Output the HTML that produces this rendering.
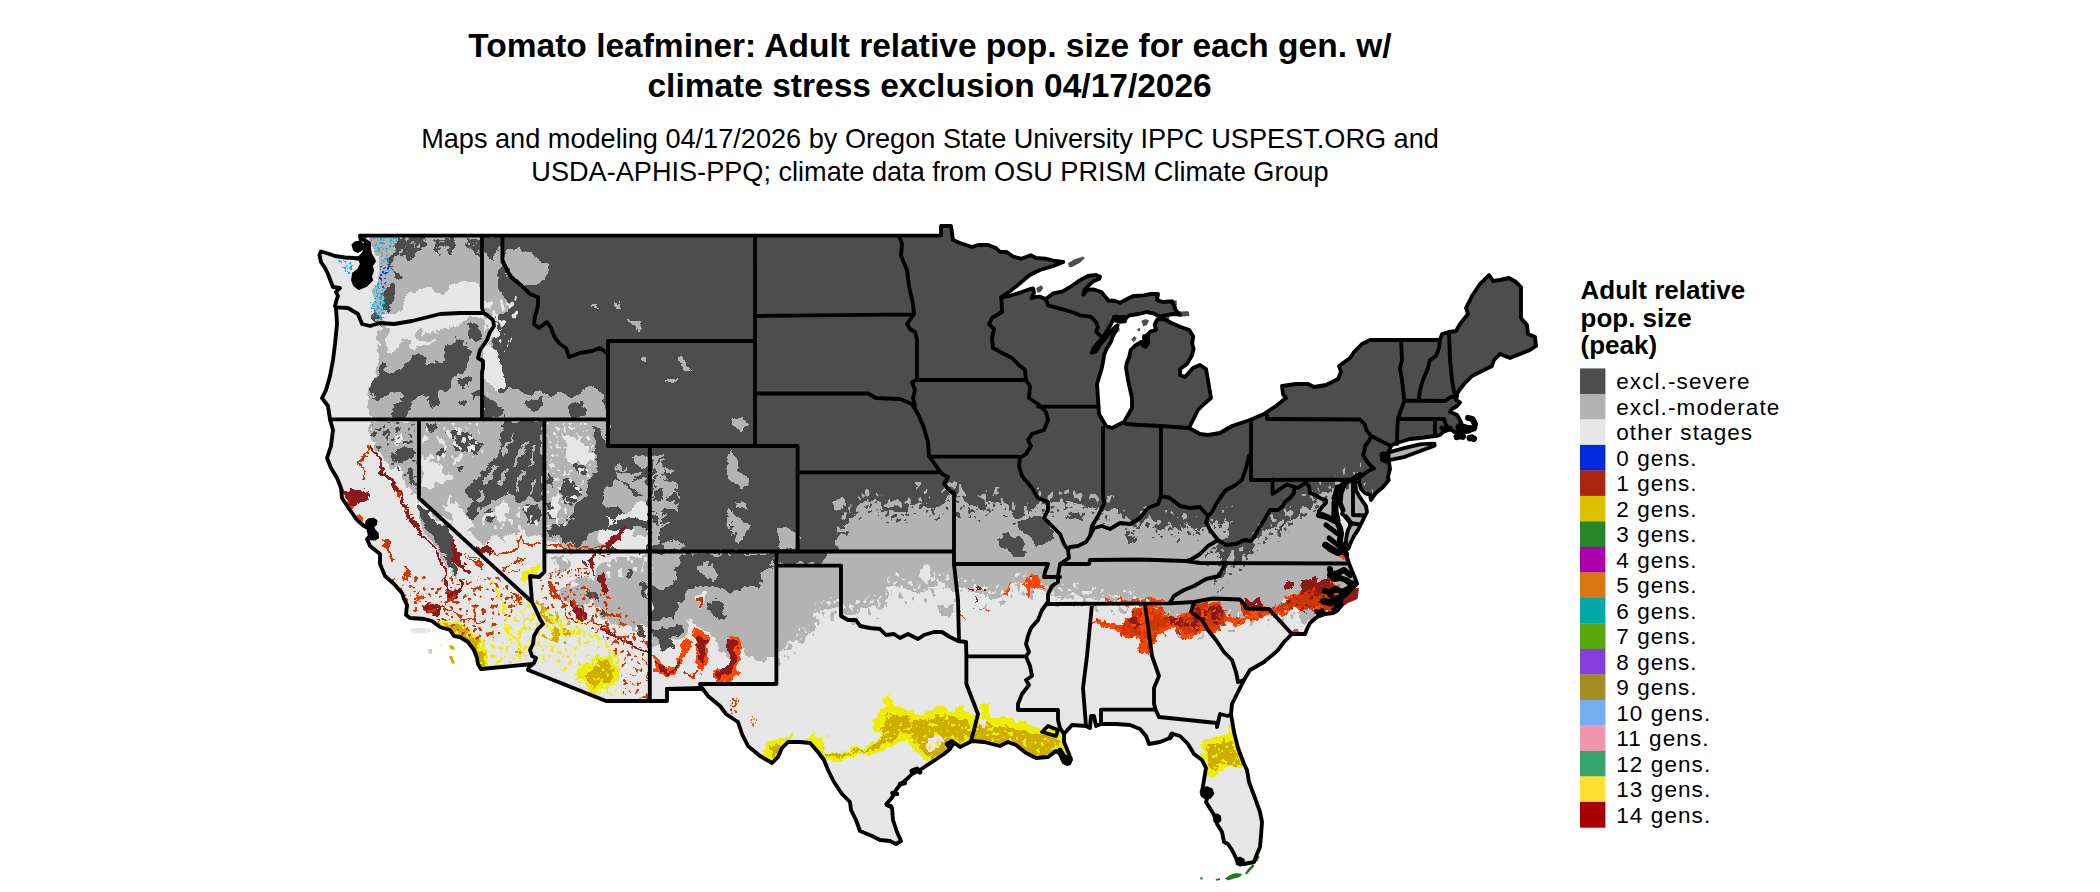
<!DOCTYPE html>
<html><head><meta charset="utf-8"><title>Tomato leafminer map</title>
<style>
html,body{margin:0;padding:0;background:#fff;}
body{width:2100px;height:892px;overflow:hidden;font-family:"Liberation Sans",sans-serif;}
svg{display:block}
.t{font-family:"Liberation Sans",sans-serif;fill:#000}
.b{fill:none;stroke:#000;stroke-width:3.85;stroke-linejoin:round;stroke-linecap:round}
</style></head><body>
<svg width="2100" height="892" viewBox="0 0 2100 892">
<rect width="2100" height="892" fill="#fff"/>
<text class="t" x="930" y="56.6" text-anchor="middle" font-size="33.5" font-weight="bold">Tomato leafminer: Adult relative pop. size for each gen. w/</text>
<text class="t" x="929.6" y="96.9" text-anchor="middle" font-size="33.5" font-weight="bold">climate stress exclusion 04/17/2026</text>
<text class="t" x="930" y="147.7" text-anchor="middle" font-size="27.13">Maps and modeling 04/17/2026 by Oregon State University IPPC USPEST.ORG and</text>
<text class="t" x="930" y="180.7" text-anchor="middle" font-size="27.13">USDA-APHIS-PPQ; climate data from OSU PRISM Climate Group</text>
<text class="t" x="1580.5" y="298.8" font-size="26" font-weight="bold">Adult relative</text>
<text class="t" x="1580.5" y="326.55" font-size="26" font-weight="bold">pop. size</text>
<text class="t" x="1580.5" y="354.3" font-size="26" font-weight="bold">(peak)</text>
<rect x="1580" y="368.4" width="25.4" height="25.8" fill="#4d4d4d"/><text class="t" x="1616.2" y="389.4" font-size="22.5" letter-spacing="1.1">excl.-severe</text>
<rect x="1580" y="393.9" width="25.4" height="25.8" fill="#b3b3b3"/><text class="t" x="1616.2" y="414.9" font-size="22.5" letter-spacing="1.1">excl.-moderate</text>
<rect x="1580" y="419.4" width="25.4" height="25.8" fill="#e6e6e6"/><text class="t" x="1616.2" y="440.4" font-size="22.5" letter-spacing="1.1">other stages</text>
<rect x="1580" y="444.9" width="25.4" height="25.8" fill="#0029db"/><text class="t" x="1616.2" y="465.9" font-size="22.5" letter-spacing="1.1">0 gens.</text>
<rect x="1580" y="470.4" width="25.4" height="25.8" fill="#a82612"/><text class="t" x="1616.2" y="491.4" font-size="22.5" letter-spacing="1.1">1 gens.</text>
<rect x="1580" y="495.9" width="25.4" height="25.8" fill="#dbc200"/><text class="t" x="1616.2" y="516.9" font-size="22.5" letter-spacing="1.1">2 gens.</text>
<rect x="1580" y="521.4" width="25.4" height="25.8" fill="#27852a"/><text class="t" x="1616.2" y="542.4" font-size="22.5" letter-spacing="1.1">3 gens.</text>
<rect x="1580" y="546.9" width="25.4" height="25.8" fill="#ac00ac"/><text class="t" x="1616.2" y="567.9" font-size="22.5" letter-spacing="1.1">4 gens.</text>
<rect x="1580" y="572.4" width="25.4" height="25.8" fill="#db7712"/><text class="t" x="1616.2" y="593.4" font-size="22.5" letter-spacing="1.1">5 gens.</text>
<rect x="1580" y="597.9" width="25.4" height="25.8" fill="#00a8a8"/><text class="t" x="1616.2" y="618.9" font-size="22.5" letter-spacing="1.1">6 gens.</text>
<rect x="1580" y="623.4" width="25.4" height="25.8" fill="#5aa80f"/><text class="t" x="1616.2" y="644.4" font-size="22.5" letter-spacing="1.1">7 gens.</text>
<rect x="1580" y="648.9" width="25.4" height="25.8" fill="#873ddb"/><text class="t" x="1616.2" y="669.9" font-size="22.5" letter-spacing="1.1">8 gens.</text>
<rect x="1580" y="674.4" width="25.4" height="25.8" fill="#a38c24"/><text class="t" x="1616.2" y="695.4" font-size="22.5" letter-spacing="1.1">9 gens.</text>
<rect x="1580" y="699.9" width="25.4" height="25.8" fill="#74adf0"/><text class="t" x="1616.2" y="720.9" font-size="22.5" letter-spacing="1.1">10 gens.</text>
<rect x="1580" y="725.4" width="25.4" height="25.8" fill="#f095ae"/><text class="t" x="1616.2" y="746.4" font-size="22.5" letter-spacing="1.1">11 gens.</text>
<rect x="1580" y="750.9" width="25.4" height="25.8" fill="#35a56b"/><text class="t" x="1616.2" y="771.9" font-size="22.5" letter-spacing="1.1">12 gens.</text>
<rect x="1580" y="776.4" width="25.4" height="25.8" fill="#ffe033"/><text class="t" x="1616.2" y="797.4" font-size="22.5" letter-spacing="1.1">13 gens.</text>
<rect x="1580" y="801.9" width="25.4" height="25.8" fill="#a80000"/><text class="t" x="1616.2" y="822.9" font-size="22.5" letter-spacing="1.1">14 gens.</text>
<defs><clipPath id="us"><path d="M360,235.6 L941,235.6 L941,226 L951,226 L953,240 L960,243 L972,247 L978,245 L988,245 L996,248 L1000,252 L1006.7,252 L1013.3,256.7 L1021.3,258.7 L1030.7,255.3 L1036,258 L1045.3,258.7 L1053.3,260.7 L1063.3,262 L1053.3,266 L1040,270 L1029.3,275.3 L1020,283.3 L1008,292.7 L1001.3,297.3 L1009.3,296 L1020,292.7 L1029.3,289.3 L1033.1,288.4 L1034,292.7 L1031.6,298.3 L1034.9,297.1 L1040,296.7 L1046,299.1 L1053.3,293.3 L1062.7,291.3 L1070.7,286.7 L1077.3,282 L1082.7,278.7 L1088,276 L1096,274.9 L1100,276.7 L1099.3,278.7 L1093.3,281.3 L1088,286 L1084.3,290 L1083.3,294.7 L1087.3,289.7 L1093.3,289.3 L1101.3,292 L1105.3,296.7 L1108.7,300.7 L1114.7,300.7 L1120,302.7 L1126.7,299.3 L1133.3,296 L1144,295.3 L1150.7,294 L1158,294 L1157.1,300 L1162.7,302 L1172,301.3 L1174,306 L1176,310.7 L1180,314.7 L1173.3,314 L1164,315.6 L1160,316.7 L1153.3,313.3 L1146.7,312 L1138.7,314 L1129.3,315.3 L1126,318 L1124.7,321.3 L1120.7,320 L1117.3,316.7 L1114.7,316.7 L1113.3,319.3 L1110.7,324.7 L1106.7,331.3 L1102.7,338 L1097.3,343.3 L1093.3,348.7 L1092,352.7 L1096,351.3 L1101.3,343.3 L1106.7,336.7 L1113.3,328.7 L1117.6,325.3 L1116.3,330 L1113.3,335.3 L1110.7,342 L1106.7,348.7 L1104,355.3 L1103.3,360.7 L1101.6,368.9 L1097,384 L1098,398 L1099,414 L1106,426 L1112,428 L1124,422 L1132,408 L1132,398 L1128,380 L1126,368 L1126.7,363.3 L1129.3,356.7 L1130.7,350 L1134.7,346 L1141.3,342 L1143.3,346 L1146,343.3 L1146.7,335.3 L1150.7,331.3 L1156,330 L1154.7,324.7 L1157.3,319.3 L1164,319.3 L1172,323.3 L1180,326.7 L1189.3,330 L1193.3,336.7 L1192,343.3 L1193.6,348.7 L1192,355.3 L1187,364 L1180,369 L1180,375 L1185,377 L1193,368 L1200,365 L1206,369 L1209,386 L1211,398 L1204,404 L1198,410 L1194,418 L1189,428 L1200,434 L1208,435 L1220,433 L1232,426 L1250,420 L1264,414 L1276,406 L1286,398 L1283,394 L1282,386 L1296,384 L1308,384 L1314,387 L1326,385 L1338,379 L1341,372 L1339,366 L1350,358 L1354,352 L1362,344 L1370,340 L1440,340 L1442,334 L1449,332 L1456,331 L1460,324 L1468,314 L1466,308 L1472,296 L1480,284 L1489,275 L1493,281 L1500,280 L1509,278 L1516,282 L1521,287 L1521,318 L1527,325 L1528,334 L1535,337 L1536,346 L1530,350 L1520,354 L1510,358 L1500,354 L1494,360 L1492,366 L1480,372 L1472,376 L1464,384 L1458,392 L1456,397 L1457,396 L1456,400 L1460,402.5 L1457,406 L1452,409 L1450,412 L1454,413.5 L1457,415 L1460,420 L1462,425 L1468,427 L1474,428 L1475.2,424 L1472.5,419 L1468,417.5 L1472.5,419 L1475.2,424 L1474,429 L1469,431.5 L1464,432.2 L1459,430.5 L1455,432.5 L1452,430 L1449,429.5 L1443,432 L1440,435 L1435,436 L1420,438 L1410,439 L1400,442 L1394,444 L1391,446 L1389,451 L1384,456 L1382,459 L1389,462 L1390,469 L1388,477 L1388.8,480 L1383,487 L1376,493 L1371,500 L1370,495 L1365,493 L1361,489 L1359,482 L1360,474 L1356,476 L1355,480 L1356,490 L1359,496 L1363,502 L1366,506 L1367,512 L1365,516 L1361,524 L1358,530 L1354,536 L1351,542 L1348,549 L1346,548 L1346,540 L1347,534 L1348,530 L1351,524 L1350,522 L1346,517 L1342,514 L1343,510 L1339,503 L1340,492 L1344,485 L1350,480 L1343,483 L1337,490 L1335,500 L1335,510 L1333,514 L1337,522 L1340,528 L1341,534 L1340,540 L1341,546 L1343,551 L1346,554 L1346,551 L1347,557 L1349,563.5 L1352,571 L1355,578 L1357,583.5 L1352,589 L1348,593 L1342,598 L1340,605 L1338,610 L1333,613 L1325,614 L1317,617 L1310,623 L1307,629 L1305,634 L1292,634 L1284,642 L1278,650 L1276,652 L1264,662 L1250,670 L1244,680 L1238,692 L1232,704 L1231,714 L1234,732 L1238,748 L1244,764 L1247,770 L1249,782 L1255,798 L1260,812 L1262,822 L1261,836 L1260,847 L1257,854 L1254,862 L1244,864 L1238,863 L1236,858 L1232,850 L1228,844 L1224,842 L1222,832 L1217,824 L1216,818 L1211,810 L1206,802 L1208,796 L1202,792 L1204,780 L1206,768 L1202,760 L1194,754 L1188,744 L1180,736 L1173,734 L1170,738 L1160,742 L1149,744 L1146,736 L1140,729 L1130,725 L1116,724 L1105,724 L1101,724 L1096,726 L1094,716 L1091,716 L1090,728 L1086,726 L1072,725 L1064,734 L1064,742 L1069,754 L1071,760 L1067,764 L1063,761 L1060,754 L1056,751 L1048,757 L1036,758 L1026,753 L1016,745 L1008,742 L1000,746 L984,742 L972,741 L968,743 L960,747 L952,741 L947,744 L950,749 L944,754 L932,762 L920,770 L912,774 L908,778 L900,785 L896,790 L893,796 L890,800 L886.4,804 L892,808 L893,820 L897,832 L901,841 L896,844 L890,841 L880,840 L872,836 L860,831 L856,820 L851,810 L850,802 L842,794 L834,782 L828,770 L824,760 L818,752 L810,743 L800,742 L788,742 L782,748 L778,757 L772,763 L760,756 L748,746 L742,734 L738,722 L726,714 L720,706 L708,696 L702,688 L667,689 L667,701 L606,701 L528,670 L529,667 L533,664 L481,669 L478,664 L477,658 L474,650 L468,642 L460,637 L454,636 L450,630 L440,627 L432,621 L424,619 L410,618 L406,615 L407,605 L404,599 L402,593 L394,584 L385,576 L380,564 L380,554 L370,546 L367,539 L370,536 L368,528 L364,526 L357,520 L350,510 L342,498 L341,488 L337,478 L331,468 L327,458 L331,446 L333,430 L330,419.4 L328,406 L322,398 L326,390 L330,376 L333,360 L335,344 L337,324 L336,308 L335,306 L336.5,300 L338,296 L336,292 L340,288 L333,287 L331,282 L328,274 L325,268 L321,262 L319.5,255 L321,251.5 L328,253.5 L335,256 L345,257.5 L354,258 L360,259 L362,264 L359,270 L354,274 L353,280 L355,285 L359,288 L366,285 L371,280 L370,276 L372,271 L371,265 L374,261 L370,254 L369,248 L369,243 L366,241 L360.5,239Z"/><path d="M1383,458 L1388,452.6 L1404,448.1 L1421,444.1 L1434.5,443.6 L1434.5,445.8 L1421,450.7 L1405,456.8 L1389,460.2 L1382,460Z"/></clipPath></defs>
<defs><filter id="rough" x="280" y="200" width="1300" height="692" filterUnits="userSpaceOnUse" color-interpolation-filters="sRGB">
<feTurbulence type="fractalNoise" baseFrequency="0.09" numOctaves="3" seed="7" result="n"/>
<feDisplacementMap in="SourceGraphic" in2="n" scale="13" xChannelSelector="R" yChannelSelector="G"/>
</filter></defs>
<g clip-path="url(#us)"><rect x="280" y="200" width="1300" height="692" fill="#4d4d4d"/><g filter="url(#rough)" shape-rendering="crispEdges">
<rect x="280" y="200" width="1300" height="692" fill="#4d4d4d"/>
<path d="M836,552 L838,534 L848,522 L856,510 L868,502 L874,498 L880,506 L884,510 L894,513 L906,514 L910,506 L912,502 L920,501 L928,504 L936,510 L944,502 L949,496 L952,494 L960,498 L968,506 L980,510 L988,502 L1000,501 L1010,510 L1020,518 L1028,510 L1032,506 L1040,500 L1050,506 L1064,501 L1080,506 L1090,506 L1098,509 L1100,515.3 L1105.3,511.3 L1112,508.7 L1120,510 L1122.7,519.3 L1126.7,523.3 L1132,530 L1137.3,527.3 L1144,520.7 L1148,519.3 L1150.7,524.7 L1158.7,528.7 L1162.7,524.7 L1170.7,523.3 L1174.7,530 L1180,532.7 L1185.3,524.7 L1190.7,523.3 L1193.3,528.7 L1198.7,531.3 L1205.3,526 L1209.3,523.3 L1212,522 L1214.7,526 L1220,524.7 L1226.7,520.7 L1233.3,519.3 L1230.7,526 L1226.7,530 L1225.3,535.3 L1224,539.3 L1220,542 L1214.7,546 L1206.7,551.3 L1204,555.3 L1210.7,552.7 L1217.3,552.7 L1220,556.7 L1222.7,562 L1224,564.7 L1225.3,570 L1222.7,575.3 L1217.3,578 L1213.3,583.3 L1212,586 L1216,582 L1225.3,575.3 L1228,570 L1230.7,564.7 L1241.3,562 L1242.7,556.7 L1250.7,550 L1253.3,546 L1258.7,538 L1265.3,531.3 L1273.3,527.3 L1278.7,530 L1282.7,523.3 L1292,519.3 L1297.3,512.7 L1304,507.3 L1309.3,511.3 L1313.3,500.7 L1320,495.3 L1326.7,492.7 L1332,490 L1333,487 L1340,484 L1346,481 L1353,479.5 L1358,474 L1361,476 L1360.5,485 L1363,491 L1368,495 L1373,499 L1390,500 L1500,900 L650,900 L650,551.5 L776.4,551.5 L776.4,565.6 L798,564.4 L820,563 L832,552Z" fill="#b3b3b3"/>
<path d="M650,648 L666,642 L684,638 L694,624 L708,632 L720,648 L728,664 L740,650 L748,656 L764,660 L776,656 L790,648 L800,640 L812,632 L816,614 L830,610 L840,606 L843,615 L850,614 L858,612 L868,606 L884,608 L888,588 L896,584 L906,592 L920,594 L930,588 L940,580 L950,586 L954,590 L959,590 L970,588 L986,598 L1000,596 L1008,588 L1020,582 L1032,588 L1048,596 L1050,598 L1064,596 L1080,594 L1090,598 L1106,602 L1120,603 L1132,600 L1140,598 L1140,606 L1152,612 L1164,622 L1180,626 L1190,632 L1200,628 L1208,622 L1224,620 L1236,620 L1252,616 L1268,614 L1280,610 L1290,606 L1300,610 L1306,614 L1316,612 L1320,616 L1340,616 L1500,900 L650,900Z" fill="#e6e6e6"/>
<path d="M998,538 L1006,534 L1016,538 L1025,544 L1026,556 L1018,558 L1008,550 L1000,548Z" fill="#4d4d4d"/>
<path d="M1018,522 L1028,518 L1040,516 L1052,522 L1053,538 L1044,544 L1032,542 L1024,534Z" fill="#4d4d4d"/>
<path d="M955,510 L960,512 L959,520 L955,518Z" fill="#4d4d4d"/>
<path d="M1068,514 L1078,512 L1080,518 L1070,520Z" fill="#4d4d4d"/>
<path d="M834,502 L842,496 L846,500 L840,510 L835,510Z" fill="#b3b3b3"/>
<path d="M916,482 L920,481.6 L920,486 L916.4,486.4Z" fill="#b3b3b3"/>
<path d="M918,568 L926,567 L929,574 L920,576Z" fill="#e6e6e6"/>
<path d="M918,568 L928,567 L930,578 L922,581 L918,576Z" fill="#e6e6e6"/>
<path d="M940,606 L952,607 L951,618 L942,616Z" fill="#b3b3b3"/>
<path d="M938,604 L954,605 L953,616 L940,615Z" fill="#b3b3b3"/>
<path d="M1128,534 L1137.3,535.3 L1136,543.3 L1130.7,542Z" fill="#4d4d4d"/>
<path d="M369,230 L503,230 L520,248 L540,258 L549,263 L546,280 L532,286 L522,286 L518,300 L524,310 L520,324 L500,332 L492,332 L496.7,353.3 L502,362.7 L507.3,374.7 L503.3,385.3 L496.7,392 L510,386.7 L515.3,392 L536.7,393.3 L542,396 L550,393.3 L563.3,396 L576.7,393.3 L590,385.3 L596,388 L600,396 L608,405 L608,419.4 L370,419.4 L368.7,410.7 L370,401.3 L368.7,390.7 L372.7,380 L376.7,369.3 L379.3,356 L378,344 L376.7,334.7 L379.3,325.3 L375,308 L374,300 L375,290 L379,280 L380,270 L378,258 L372,248 L369,236.5Z" fill="#b3b3b3"/>
<path d="M300,225 L369,236.5 L372,248 L378,258 L380,270 L379,280 L375,290 L374,300 L375,308 L372,317 L379.3,325.3 L376.7,334.7 L378,344 L379.3,356 L376.7,369.3 L372.7,380 L368.7,390.7 L370,401.3 L368.7,410.7 L370,418.9 L300,419.4Z" fill="#e6e6e6"/>
<path d="M400,304 L406,296 L414,294 L420,289 L435,289 L443,296 L454,284 L466,281 L482,281 L483.3,317.1 L471.3,317.3 L464.7,320 L456.7,322.7 L448.7,328 L438,330.7 L430,333.3 L416.7,332 L412.7,334.7 L416.7,340 L430,338.7 L435.3,341.3 L430,342.7 L422,345.3 L416.7,350.7 L411.3,348 L408.7,340 L403.3,337.3 L402,344 L395.3,345.3 L392.7,353.3 L384.7,350.7 L384.7,340 L390,332 L384.7,327.3 L380,316 L386,313 L400,313Z" fill="#e6e6e6"/>
<path d="M483.3,317.1 L487.3,317.3 L496.7,314.7 L507.3,320 L506,329.3 L496.7,334.7 L488.7,332 L484.7,326.7Z" fill="#e6e6e6"/>
<path d="M483.3,350.7 L488.7,344 L496.7,353.3 L502,362.7 L507.3,374.7 L503.3,385.3 L496.7,390.7 L487.3,385.3 L483.3,380Z" fill="#e6e6e6"/>
<path d="M398,236.5 L425,236.5 L424,248 L418,254 L414,258 L409,261 L406,258 L400,254 L396,256 L392,262 L390,270 L394,275 L400,273 L404,277 L400,282 L394,281 L390,276 L389,266 L391,254 L395,246Z" fill="#4d4d4d"/>
<path d="M434,236.5 L455,236.5 L456,244 L450,254 L445,250 L440,254 L435,248Z" fill="#4d4d4d"/>
<path d="M464,236.5 L481,236.5 L481,254 L474,256 L470,248 L465,244Z" fill="#4d4d4d"/>
<path d="M380,290 L386,288 L390,284 L396,288 L398,296 L394,304 L390,311 L386,310 L385,302 L381,298Z" fill="#4d4d4d"/>
<path d="M484,236 L502,236 L502,246 L496,250 L492,260 L486,256 L484,246Z" fill="#4d4d4d"/>
<path d="M502.4,260 L508,272 L512,278 L522,286 L518,300 L524,310 L520,324 L500,332 L496,320 L506,314 L508,300 L500,292 L496,284 L500,272Z" fill="#4d4d4d"/>
<path d="M502.4,235.6 L560,235.6 L560,260 L549,263 L540,258 L520,248 L510,250 L506,258 L502.4,260Z" fill="#4d4d4d"/>
<path d="M372.7,380 L379.3,374.7 L384.7,364 L392.7,374.7 L400.7,368 L408.7,358.7 L416.7,356 L420.7,353.3 L426,362.7 L434,361.3 L443.3,358.7 L446,345.3 L454,342.7 L458,337.3 L464.7,340 L467.3,348 L470,353.3 L470,361.3 L464.7,369.3 L456.7,372 L451.3,380 L448.7,390.7 L443.3,393.3 L438,396 L440.7,406.7 L435.3,410.7 L430,406.7 L427.3,398.7 L422,393.3 L416.7,401.3 L411.3,404 L408.7,412 L403.3,418.9 L390,418.9 L395.3,406.7 L400.7,401.3 L398,393.3 L390,390.7 L384.7,393.3 L379.3,401.3 L372.7,398.7 L371.3,388Z" fill="#4d4d4d"/>
<path d="M466,326.7 L471.3,324 L478,326.7 L483.3,332 L482,338.7 L475.3,340 L470,334.7Z" fill="#4d4d4d"/>
<path d="M458,377.3 L468.7,377.3 L469.3,386.7 L460.7,388Z" fill="#4d4d4d"/>
<path d="M474,390.7 L482,390.7 L482,398.7 L474.7,398Z" fill="#4d4d4d"/>
<path d="M462,398.7 L468.7,401.3 L464.7,406.7 L459.3,405.3Z" fill="#4d4d4d"/>
<path d="M483.3,397.3 L491.3,398.7 L496.7,406.7 L506,410.7 L504.7,418.9 L483.3,418.9Z" fill="#4d4d4d"/>
<path d="M528.7,401.3 L539.3,398.7 L544.7,404 L542,412 L534,413.3 L528.7,409.3Z" fill="#4d4d4d"/>
<path d="M568.7,406.7 L579.3,401.3 L587.3,406.7 L584.7,416 L574,417.3Z" fill="#4d4d4d"/>
<path d="M300,419.4 L420,419.4 L420,498 L442,520 L450,520 L458,525.3 L470,530.7 L476.7,541.3 L487.3,542.7 L495.3,534.7 L503.3,540 L514,533.3 L522,528 L530,536 L544.7,537.3 L544.7,551.3 L650,551.5 L650,710 L300,710Z" fill="#e6e6e6"/>
<path d="M419,419.4 L608,419.4 L608,446 L596,422 L597.3,436.7 L593.3,450 L598.7,466 L593.3,474 L588,484.7 L584,495.3 L574.7,506 L569.3,516.7 L564,528.9 L557.3,522.7 L548,534.7 L545.3,551.3 L544.7,551.3 L544.7,537.3 L530,536 L522,528 L514,533.3 L503.3,540 L495.3,534.7 L487.3,542.7 L476.7,541.3 L470,530.7 L458,525.3 L450,520 L442,520 L419,498Z" fill="#b3b3b3"/>
<path d="M370,421.3 L418.7,421.3 L418.7,502 L420.7,506 L443.3,524.7 L451.3,528.9 L450,520 L447.3,528 L450,538.7 L454,550.7 L456.7,562.7 L460,573.3 L456.7,580 L450,573.3 L444.7,562.7 L439.3,552 L432.7,542.7 L426,534.7 L420.7,525.3 L416.7,495.3 L411.3,490 L403.3,476.7 L400.7,466 L392.7,468.7 L384.7,460.7 L379.3,450 L372.7,442 L370,431.3Z" fill="#b3b3b3"/>
<path d="M418.7,502 L420.7,506 L443.3,524.7 L448.7,528.9 L440.7,520 L447.3,528 L450,538.7 L454,550.7 L456.7,562.7 L459.3,573.3 L455.3,577.3 L450,570.7 L447.3,560 L443.3,552 L436.7,541.3 L430,534.7 L426,526.7 L422,520 L424.7,520.7 L418,511.3Z" fill="#4d4d4d"/>
<path d="M392.7,452.7 L403.3,447.3 L414,448.7 L415.3,455.3 L400.7,462Z" fill="#4d4d4d"/>
<path d="M406,468.7 L411.3,470 L416.7,484.7 L411.3,484.7Z" fill="#4d4d4d"/>
<path d="M370.7,432.7 L375.3,432 L376,436 L371.3,436.7Z" fill="#4d4d4d"/>
<path d="M384.7,428.7 L389.3,428.7 L389.3,432.7 L384.7,432.7Z" fill="#4d4d4d"/>
<path d="M392.7,434 L403.3,435.3 L402,444.7 L394,443.3Z" fill="#e6e6e6"/>
<path d="M355.3,430 L366,427.3 L368.7,436.7 L363.3,444.7 L355.3,443.3Z" fill="#e6e6e6"/>
<path d="M500.7,421.3 L543.3,421.3 L543.3,503.3 L530,496.7 L523.3,503.3 L515.3,502 L510,490 L502,495.3 L494,503.3 L483.3,506 L475.3,508.7 L470,500.7 L464.7,490 L470,482 L480.7,476.7 L488.7,466 L496.7,458 L502,450 L499.3,439.3 L502,431.3Z" fill="#4d4d4d"/>
<path d="M424.7,423.3 L438,423.3 L440.7,431.3 L430,432.7Z" fill="#4d4d4d"/>
<path d="M446,431.3 L456.7,427.3 L476.7,439.3 L483.3,447.3 L478,455.3 L467.3,450 L456.7,448.7 L450,440.7Z" fill="#4d4d4d"/>
<path d="M436.7,448.7 L443.3,448 L443.3,454 L437.3,454.7Z" fill="#4d4d4d"/>
<path d="M456,468.7 L463.3,468.7 L459.3,475.3Z" fill="#4d4d4d"/>
<path d="M467.3,508.7 L475.3,503.3 L478,514 L470,520.7Z" fill="#4d4d4d"/>
<path d="M523.3,508.7 L534,503.3 L539.3,511.3 L536.7,524.7 L528.7,524.7Z" fill="#4d4d4d"/>
<path d="M483.3,511.3 L491.3,508.7 L494,519.3 L486,523.3Z" fill="#4d4d4d"/>
<path d="M510,436.7 L514,435.3 L506,454 L502,455.3Z" fill="#b3b3b3"/>
<path d="M523.3,443.3 L526.7,443.3 L518,466 L514.7,466Z" fill="#b3b3b3"/>
<path d="M534,444.7 L536.7,444.7 L531.3,466 L528.7,466Z" fill="#b3b3b3"/>
<path d="M494,466 L498,467.3 L487.3,484.7 L483.3,483.3Z" fill="#b3b3b3"/>
<path d="M507.3,466 L510,467.3 L502,484.7 L498.7,484Z" fill="#b3b3b3"/>
<path d="M520.7,472.7 L523.3,474 L518,490 L515.3,488.7Z" fill="#b3b3b3"/>
<path d="M534,476.7 L536.7,477.3 L532.7,495.3 L530,494.7Z" fill="#b3b3b3"/>
<path d="M482,487.3 L486,488.7 L479.3,503.3 L476,502Z" fill="#b3b3b3"/>
<path d="M422,460.7 L443.3,466 L446,479.3 L430,490 L422,484.7Z" fill="#e6e6e6"/>
<path d="M443.3,503.3 L454,502 L463.3,511.3 L472.7,524.7 L467.3,528.9 L456.7,528.9 L448.7,516.7Z" fill="#e6e6e6"/>
<path d="M494,511.3 L502,503.3 L510,506 L507.3,516.7 L499.3,524.7Z" fill="#e6e6e6"/>
<path d="M565.3,435.3 L573.3,434 L584,442 L592,452.7 L593.3,463.3 L585.3,463.3 L577.3,460.7 L569.3,466 L565.3,456.7 L568,447.3Z" fill="#e6e6e6"/>
<path d="M573.3,463.3 L582.7,463.3 L585.3,472.7 L577.3,475.3Z" fill="#4d4d4d"/>
<path d="M561.3,479.3 L574.7,479.3 L580,492.7 L574.7,503.3 L564,500.7 L558.7,490Z" fill="#4d4d4d"/>
<path d="M546.7,472.7 L553.3,476.7 L550.7,490 L546.7,487.3Z" fill="#4d4d4d"/>
<path d="M548,503.3 L556,502 L557.3,516.7 L549.3,519.3Z" fill="#4d4d4d"/>
<path d="M552,495.3 L557.3,490 L560,503.3 L556,516.7 L552,514Z" fill="#e6e6e6"/>
<path d="M632,456.7 L648.7,455.3 L648.7,466 L641.3,468.7 L636,463.3Z" fill="#b3b3b3"/>
<path d="M614.7,470 L625.3,472.7 L633.3,479.3 L646.7,476.7 L648.7,484.7 L641.3,495.3 L633.3,490 L628,484.7 L620,482Z" fill="#b3b3b3"/>
<path d="M601.3,503.3 L609.3,484.7 L614.7,479.3 L622.7,484.7 L630.7,492.7 L638.7,495.3 L648.7,487.3 L648.7,528.9 L593.3,528.9 L598.7,516.7 L596,533.3 L598.7,541.3 L606.7,546.7 L620,550 L648.7,550 L648.7,520Z" fill="#b3b3b3"/>
<path d="M604,516.7 L614.7,519.3 L625.3,514 L638.7,503.3 L648.7,502 L648.7,528.9 L604,528.9 L596,533.3 L598.7,541.3 L606.7,546.7 L620,550 L648.7,550 L648.7,520 L614.7,520 L609.3,528Z" fill="#e6e6e6"/>
<path d="M632,525.3 L646.7,525.3 L646.7,537.3 L633.3,537.3Z" fill="#b3b3b3"/>
<path d="M545.3,520 L601.3,520 L598.7,528 L596,533.3 L598.7,541.3 L606.7,546.7 L606.7,551.3 L545.3,551.3Z" fill="#b3b3b3"/>
<path d="M546.7,528 L560,524 L574.7,520 L601.3,520 L598.7,528 L589.3,534.7 L585.3,542.7 L580,546.7 L566.7,544 L556,536 L548,534.7Z" fill="#4d4d4d"/>
<path d="M545.3,538.7 L556,541.3 L566.7,546.7 L566.7,551.3 L545.3,551.3Z" fill="#e6e6e6"/>
<path d="M652,455.3 L658.7,456.7 L657.3,463.3 L662.7,468.7 L660,479.3 L668,484.7 L678.7,487.3 L670.7,492.7 L665.3,500.7 L681.3,502 L678.7,508.7 L670.7,511.3 L662.7,506 L660,516.7 L662.7,524.7 L652,528.9Z" fill="#b3b3b3"/>
<path d="M653.3,467.3 L658.7,470 L657.3,479.3 L653.3,479.3Z" fill="#4d4d4d"/>
<path d="M653.3,484.7 L665.3,490 L660,500.7 L653.3,500.7Z" fill="#4d4d4d"/>
<path d="M653.3,511.3 L658.7,514 L657.3,523.3 L653.3,524.7Z" fill="#4d4d4d"/>
<path d="M725.3,451.3 L733.3,450 L736,463.3 L740,471.3 L748,476.7 L748,483.3 L740,490 L733.3,484.7 L728,476.7 L726.7,463.3Z" fill="#b3b3b3"/>
<path d="M737.3,502 L749.3,503.3 L748,508.7 L738.7,507.3Z" fill="#b3b3b3"/>
<path d="M724,512.7 L733.3,511.3 L740,516.7 L745.3,524.7 L753.3,528.9 L737.3,528.9 L732,520.7 L732,528 L742.7,522.7 L753.3,528 L748,533.3 L740,544 L734.7,537.3Z" fill="#b3b3b3"/>
<path d="M777.3,533.3 L784,528 L793.3,533.3 L796,546.7 L786.7,544Z" fill="#b3b3b3"/>
<path d="M652,520 L657.3,525.3 L660,536 L654.7,546.7 L652,550Z" fill="#b3b3b3"/>
<path d="M660,545.3 L673.3,540 L686.7,548 L673.3,550.4Z" fill="#b3b3b3"/>
<path d="M730,418 L737.3,415.3 L744,418 L746.7,426 L740,430 L733.3,424.7Z" fill="#b3b3b3"/>
<path d="M778,528 L788,526 L797,538 L797,550 L780,550 L777,538Z" fill="#b3b3b3"/>
<path d="M557.3,594.7 L566.7,582.7 L578.7,577.3 L593.3,578.7 L596,565.3 L609.3,561.3 L622.7,558.7 L648.7,554.7 L648.7,626.7 L638.7,626.7 L633.3,632 L625.3,625.3 L614.7,624 L602.7,618.7 L598.7,605.3 L586.7,600 L580,605.3 L566.7,605.3Z" fill="#b3b3b3"/>
<path d="M553.3,558.7 L561.3,557.3 L572,564 L566.7,573.3 L556,572Z" fill="#b3b3b3"/>
<path d="M586.7,592 L596,590.7 L598.7,598.7 L590.7,600Z" fill="#4d4d4d"/>
<path d="M638.7,584 L646.7,582.7 L648.7,594.7 L644,597.3 L640,592Z" fill="#4d4d4d"/>
<path d="M582.7,560 L586.7,558.7 L586.7,568 L583.3,566.7Z" fill="#4d4d4d"/>
<path d="M601.3,610.7 L606.7,612 L605.3,616Z" fill="#4d4d4d"/>
<path d="M636,626.7 L642.7,628 L645.3,637.3 L638.7,636Z" fill="#4d4d4d"/>
<path d="M624,568 L630.7,568 L629.3,576 L624,574.7Z" fill="#4d4d4d"/>
<path d="M681.3,554 L774.7,554 L774.7,560 L769.3,568 L761.3,576 L758.7,586.7 L748,584 L740,589.3 L729.3,594.7 L724,589.3 L713.3,584 L700,585.3 L689.3,589.3 L684,597.3 L678.7,605.3 L673.3,618.7 L650.7,620 L650.7,584 L660,588 L670.7,586.7 L676,578.7 L678.7,565.3Z" fill="#4d4d4d"/>
<path d="M710.7,600 L718.7,598.7 L724,610.7 L726.7,613.3 L718.7,621.3 L710.7,616 L708,608Z" fill="#4d4d4d"/>
<path d="M650.7,626.7 L668,629.3 L678.7,626.7 L681.3,633.3 L670.7,638.9 L676,650 L660,648 L652,640Z" fill="#4d4d4d"/>
<path d="M697.3,566.7 L713.3,565.3 L718.7,573.3 L710.7,578.7 L700,573.3Z" fill="#b3b3b3"/>
<path d="M697.3,596 L705.3,592 L709.3,594.7 L704,602.7 L700,610.7 L697.3,605.3Z" fill="#e6e6e6"/>
<path d="M686.7,624 L692,616 L694.7,621.3 L692,630.7 L697.3,629.3 L705.3,632 L706.7,638.9 L686.7,638.9Z" fill="#e6e6e6"/>
<path d="M612,304 L622,303 L620,308 L614,309Z" fill="#b3b3b3"/>
<path d="M628,320 L638,321 L642,332 L636,331Z" fill="#b3b3b3"/>
<path d="M593,306 L600,304 L599,309Z" fill="#b3b3b3"/>
<path d="M640,358 L646,356 L648,360 L643,361Z" fill="#b3b3b3"/>
<path d="M678,358 L684,358 L688,370 L684,372Z" fill="#b3b3b3"/>
<path d="M666,380 L678,378 L674,383 L666,383Z" fill="#b3b3b3"/>
<path d="M580,388 L590,386 L590,392 L582,392Z" fill="#b3b3b3"/>
<path d="M730,418 L742,416 L746,426 L738,430 L731,424Z" fill="#b3b3b3"/>
<path d="M1092,624 L1097.3,617.3 L1102.7,618.7 L1110.7,624 L1124,622.7 L1130.7,616 L1132,609.3 L1140,605.3 L1145.3,606.7 L1153.3,605.3 L1164,610.7 L1166.7,618.7 L1174.7,616 L1184,613.3 L1192,613.3 L1192,608 L1201.3,602.7 L1221.3,601.3 L1221.3,632 L1206.7,632 L1198.7,632 L1190.7,630.7 L1189.3,638.7 L1184,637.3 L1182.7,632 L1166.7,626.7 L1164,634.7 L1156,637.3 L1153.3,646.7 L1148,653.3 L1138.7,653.3 L1136,646.7 L1142.7,640 L1140,634.7 L1126.7,640 L1124,634.7 L1113.3,632 L1100,626.7Z" fill="#ff4500"/>
<path d="M1105.3,600 L1132,598.7 L1153.3,598.7 L1166.7,601.3 L1153.3,604.7 L1126.7,604.7 L1105.3,604.7Z" fill="#ff4500"/>
<path d="M1113.3,626.7 L1126.7,624 L1132,616 L1134.7,609.3 L1142.7,606.7 L1148,610.7 L1158.7,609.3 L1165.3,616 L1169.3,620 L1180,616 L1192,614.7 L1193.3,609.3 L1202.7,604 L1221.3,602.7 L1221.3,629.3 L1208,629.3 L1201.3,626.7 L1190.7,626.7 L1180,626.7 L1169.3,624 L1161.3,629.3 L1153.3,634.7 L1150.7,645.3 L1144,650.7 L1138.7,649.3 L1144,640 L1142.7,632 L1132,634.7 L1126.7,634.7Z" fill="#cd3700"/>
<path d="M1132,610.7 L1142.7,610.7 L1142.7,624 L1134.7,626.7 L1129.3,622.7Z" fill="#8b1a1a"/>
<path d="M1164,616 L1174.7,618.7 L1185.3,616 L1193.3,614.7 L1201.3,618.7 L1204,626.7 L1193.3,625.3 L1180,624 L1169.3,622.7Z" fill="#8b1a1a"/>
<path d="M1194.7,609.3 L1204,605.3 L1221.3,604 L1221.3,622.7 L1212,618.7 L1205.3,613.3 L1198.7,613.3Z" fill="#8b1a1a"/>
<path d="M1138.7,645.3 L1145.3,642.7 L1148,648 L1141.3,652Z" fill="#8b1a1a"/>
<path d="M1022.7,584 L1032.7,570.7 L1041.3,578.7 L1048,585.3 L1041.3,590.7 L1033.3,589.3 L1032,597.3 L1028,596 L1028,588Z" fill="#ff4500"/>
<path d="M1004,592.7 L1010.7,584.7 L1008.7,594.7Z" fill="#ff4500"/>
<path d="M970.7,586.7 L984,588.3 L982.7,590 L971.3,588.7Z" fill="#8b1a1a"/>
<path d="M973.3,598.7 L978.7,598.4 L978.9,600.3 L973.6,600.5Z" fill="#8b1a1a"/>
<path d="M1028,577.3 L1032,576.7 L1032,580 L1028.7,580.7Z" fill="#8b1a1a"/>
<path d="M940,605.3 L953.3,606.7 L953.3,618.7 L942.7,616Z" fill="#b3b3b3"/>
<path d="M1138,610 L1148,606 L1160,606 L1168,616 L1180,614 L1192,610 L1200,604 L1220,604 L1226,610 L1228,620 L1236,616 L1244,618 L1256,614 L1264,610 L1280,604 L1284,596 L1296,596 L1306,588 L1320,588 L1332,582 L1340,588 L1340,606 L1332,614 L1320,610 L1304,612 L1292,608 L1284,616 L1278,614 L1268,616 L1256,620 L1240,624 L1228,624 L1220,626 L1206,628 L1200,634 L1188,636 L1182,632 L1172,628 L1164,632 L1160,636 L1152,636 L1148,636 L1144,630 L1138,628 L1146,624 L1138,620Z" fill="#ff4500"/>
<path d="M1152,610 L1168,618 L1180,616 L1192,613 L1202,606 L1220,606 L1225,612 L1224,622 L1216,625 L1204,626 L1198,632 L1188,633 L1180,629 L1168,626 L1160,630 L1152,630 L1148,622Z" fill="#cd3700"/>
<path d="M1240,606 L1252,604 L1264,606 L1280,606 L1286,598 L1298,598 L1308,590 L1320,590 L1332,584 L1340,590 L1340,604 L1330,611 L1320,608 L1306,609 L1294,606 L1284,613 L1276,612 L1264,614 L1252,616 L1242,614Z" fill="#cd3700"/>
<path d="M1164,617 L1180,615 L1192,617 L1200,623 L1196,630 L1180,626.4 L1168,625Z" fill="#8b1a1a"/>
<path d="M1196,607 L1220,605 L1225.6,612.4 L1220,621.6 L1204,620.4 L1194,614.4Z" fill="#8b1a1a"/>
<path d="M1244,598 L1260,600 L1264,608 L1248,608Z" fill="#8b1a1a"/>
<path d="M1302,578 L1316,578 L1320,588 L1310,592 L1302,586Z" fill="#8b1a1a"/>
<path d="M1140,640 L1146,638 L1150,644 L1146,652 L1140,654Z" fill="#ff4500"/>
<path d="M1302,583 L1306,578 L1312,579 L1316,585 L1324,583 L1330,579 L1332,587 L1324,589 L1320,593 L1310,592 L1304,589Z" fill="#8b1a1a"/>
<path d="M1286,583 L1290,580 L1295,581 L1290,589 L1286,590Z" fill="#8b1a1a"/>
<path d="M1282,599 L1288,599 L1287,603 L1281,603Z" fill="#e6e6e6"/>
<path d="M1300,611 L1310,609 L1315,611 L1314,617 L1304,620Z" fill="#b3b3b3"/>
<path d="M1290,629 L1296,626 L1299,631 L1294,634Z" fill="#ff4500"/>
<path d="M1338,557 L1344,556 L1346,561 L1341,562Z" fill="#ff4500"/>
<path d="M802,737 L816,734 L824,740 L826,750 L836,752 L848,750 L860,748 L872,744 L880,736 L874,726 L884,704 L890,698 L896,708 L904,712 L912,710 L920,714 L930,710 L942,706 L952,712 L960,708 L970,714 L978,716 L982,706 L988,706 L990,716 L1004,714 L1008,720 L1020,720 L1028,724 L1040,730 L1050,726 L1058,730 L1064,742 L1069,754 L1072,761 L1067,765 L1048,761 L1036,763 L1026,757 L1016,749 L1008,745 L1000,749 L984,745 L972,744 L960,748 L952,752 L946,757 L940,763 L932,767 L926,761 L920,755 L912,751 L908,741 L900,739 L892,745 L884,753 L872,753 L860,755 L848,758 L834,763 L829,758 L824,761 L818,753 L810,744Z" fill="#eeee00"/>
<path d="M820,742 L828,752 L840,753 L856,751 L872,747 L882,738 L880,726 L888,714 L896,716 L906,718 L920,720 L932,716 L944,712 L956,718 L968,720 L971,738 L960,744 L952,739 L944,742 L950,750 L942,756 L932,762 L928,754 L922,748 L916,744 L912,734 L900,732 L890,740 L880,748 L868,750 L852,754 L836,759 L830,754Z" fill="#cdad00"/>
<path d="M974,726 L986,722 L1000,726 L1012,728 L1024,730 L1036,736 L1048,736 L1058,742 L1060,752 L1048,757 L1036,758 L1026,753 L1016,745 L1008,742 L1000,746 L984,742 L974,741Z" fill="#cdad00"/>
<path d="M928,738 L936,734 L942,740 L940,748 L930,750Z" fill="#e6e6e6"/>
<path d="M978,718 L986,720 L984,728 L978,726Z" fill="#e6e6e6"/>
<path d="M762,748 L770,740 L780,740 L786,736 L794,735 L790,742 L782,748 L778,757 L772,762 L764,756Z" fill="#eeee00"/>
<path d="M768,746 L778,743 L780,749 L774,757 L769,754Z" fill="#cdad00"/>
<path d="M883,698 L890,695 L892,702 L886,704Z" fill="#eeee00"/>
<path d="M1198,750 L1200,744 L1206,738 L1216,740 L1224,736 L1228,726 L1231,726 L1234,734 L1238,748 L1244,764 L1242,770 L1236,766 L1228,768 L1220,768 L1216,776 L1210,778 L1208,770 L1206,762 L1202,758Z" fill="#eeee00"/>
<path d="M1204,748 L1210,744 L1220,744 L1228,738 L1232,742 L1236,754 L1240,764 L1230,765 L1220,764 L1214,770 L1209,766 L1207,758Z" fill="#cdad00"/>
<path d="M342,488.7 L354,490 L366,488.7 L368.7,500.7 L360.7,504.7 L350,503.3 L343.3,498Z" fill="#8b1a1a"/>
<path d="M347.3,502 L355.3,503.3 L354,507.3 L348.7,506Z" fill="#ff4500"/>
<path d="M392.7,488.7 L402,490 L403.3,496.7 L396.7,498Z" fill="#cd3700"/>
<path d="M402,510 L411.3,512.7 L408.7,516.7Z" fill="#cd3700"/>
<path d="M359.3,516.7 L363.3,515.3 L364.7,523.3 L360.7,523.3Z" fill="#ff4500"/>
<path d="M383.3,537.3 L388.7,540 L392.7,550.7 L396.7,560 L394,560 L388.7,550.7 L384.7,545.3Z" fill="#cd3700"/>
<path d="M402,566.7 L407.3,569.3 L411.3,581.3 L406,580Z" fill="#cd3700"/>
<path d="M414,592 L423.3,597.3 L420.7,600Z" fill="#ff4500"/>
<path d="M422,606.7 L431.3,605.3 L440.7,606.7 L436.7,613.3 L428.7,616Z" fill="#8b1a1a"/>
<path d="M450,537.3 L452.9,538.4 L455.6,549.3 L461.3,562 L470,573.3 L468.4,575.3 L459.6,566 L452.9,553.3Z" fill="#8b1a1a"/>
<path d="M478,545.3 L487.3,544 L494,550.7 L490,554.7 L482,553.3Z" fill="#8b1a1a"/>
<path d="M508.7,590.7 L519.3,594.7 L522,600 L514,601.3Z" fill="#cd3700"/>
<path d="M544.7,580 L554,586.7 L559.3,594.7 L556.7,600 L551.3,592 L546,586.7Z" fill="#cd3700"/>
<path d="M571.3,600 L583.3,605.3 L586,613.3 L580.7,621.3 L575.3,616Z" fill="#8b1a1a"/>
<path d="M598,576 L604.7,580 L606,592 L600.7,589.3Z" fill="#8b1a1a"/>
<path d="M598.7,576 L602.7,574.7 L606.7,589.3 L604,593.3 L600,584Z" fill="#8b1a1a"/>
<path d="M570.7,600 L580,605.3 L585.3,612 L582.7,618.7 L576,617.3 L572,610.7Z" fill="#8b1a1a"/>
<path d="M612,536 L618.7,534.7 L617.3,542.7 L612.7,542.7Z" fill="#8b1a1a"/>
<path d="M652.4,654 L660,660 L666,668 L674,666 L679,658 L682,646 L688,639 L691,642 L686,652 L683,664 L677,674 L666,677 L657,672Z" fill="#ff4500"/>
<path d="M655,660 L662,665 L667,671 L674.4,669 L679,660 L680.4,664 L676,672 L666.4,674.4 L658.4,670Z" fill="#8b1a1a"/>
<path d="M693.6,628 L698,629 L707,638 L708,656 L703,670 L698,669 L695.6,656 L697,642Z" fill="#ff4500"/>
<path d="M698.4,638 L705,640 L705.6,654 L701,665 L698.4,653Z" fill="#8b1a1a"/>
<path d="M730,636 L738,638 L739,660 L740,678 L732,672 L730,656Z" fill="#ff4500"/>
<path d="M732,644 L737,644 L737.6,664 L733,664Z" fill="#8b1a1a"/>
<path d="M713,671 L720,669 L728,674 L729.6,680 L721,684.4 L715,680Z" fill="#ff4500"/>
<path d="M716,672 L726,674 L724,682 L717,680Z" fill="#8b1a1a"/>
<path d="M698,598 L703,597 L702,608 L698.4,608Z" fill="#cd3700"/>
<path d="M612,536 L620,528 L624,532 L618,542 L608,546 L604,544Z" fill="#8b1a1a"/>
<path d="M600,576 L604,580 L606,592 L601,590Z" fill="#8b1a1a"/>
<path d="M728,636 L736,638 L738,656 L736,672 L728,676 L720,680 L720,670 L728,662Z" fill="#8b1a1a"/>
<path d="M726,636 L739,637 L740,676 L728,680 L720,684 L720,676 L732,670 L734,652Z" fill="#ff4500"/>
<path d="M729,640 L736,642 L737,664 L730,670Z" fill="#8b1a1a"/>
<path d="M438,619 L452,621 L464,626 L474,634 L480,642 L486,652 L488,664 L480,666 L476,656 L470,646 L460,638 L452,632 L442,628Z" fill="#eeee00"/>
<path d="M444,623 L456,625 L468,632 L478,644 L484,656 L485,663 L481,664 L476,654 L468,642 L458,634 L448,629Z" fill="#cdad00"/>
<path d="M576,680 L580,670 L588,664 L596,656 L608,658 L616,664 L618,676 L612,684 L600,688 L592,694 L588,688 L580,684Z" fill="#eeee00"/>
<path d="M582,676 L590,666 L598,660 L608,662 L614,670 L612,680 L600,684 L592,688 L586,682Z" fill="#cdad00"/>
<path d="M516,648 L522,652 L520,656 L515,654Z" fill="#cdad00"/>
<path d="M519.3,572 L527.3,570.7 L535.3,565.3 L539.3,569.3 L538,574.7 L530,576 L526,582.7 L522,577.3Z" fill="#eeee00"/>
<path d="M538,600 L543.3,606.7 L546,616 L554,618.7 L556.7,610.7 L559.3,616 L556.7,624 L548.7,621.3 L540.7,613.3Z" fill="#cdad00"/>
<path d="M960,613.3 L962.7,618.7 L968,621.3" fill="none" stroke="#ff4500" stroke-width="1.2" stroke-linejoin="round"/>
<path d="M981.3,610.7 L986.7,611.3 L991.3,610" fill="none" stroke="#ff4500" stroke-width="1.2" stroke-linejoin="round"/>
<path d="M968,604.7 L972,604" fill="none" stroke="#ff4500" stroke-width="1.2" stroke-linejoin="round"/>
<path d="M371.3,448 L368.7,447.3 L364.7,455.3 L359.3,462 L360.7,471.3 L363.3,482" fill="none" stroke="#cd3700" stroke-width="2.2" stroke-linejoin="round"/>
<path d="M371.3,448 L376.7,451.3 L379.3,463.3 L383.3,472.7 L390,480.7 L395.3,490 L402,495.3 L406,506 L408.7,515.3 L416.7,527.3" fill="none" stroke="#8b1a1a" stroke-width="3.2" stroke-linejoin="round"/>
<path d="M410,520 L415.3,528 L423.3,537.3 L432.7,546.7 L440.7,558.7 L444.7,570.7 L446,582.7 L450,594.7 L454,598.7 L460.7,586.7 L462,578.7" fill="none" stroke="#8b1a1a" stroke-width="2.6" stroke-linejoin="round"/>
<path d="M440.7,606.7 L447.3,612 L455.3,614.7" fill="none" stroke="#cd3700" stroke-width="1.5" stroke-linejoin="round"/>
<path d="M444.7,605.3 L450,600 L454,598.7" fill="none" stroke="#cd3700" stroke-width="1.5" stroke-linejoin="round"/>
<path d="M494,552 L503.3,553.3 L514,550.7 L516.7,540 L520.7,534.7 L524.7,542.7 L530,545.3 L538,544 L543.3,545.3" fill="none" stroke="#cd3700" stroke-width="2.2" stroke-linejoin="round"/>
<path d="M503.3,565.3 L514,564 L523.3,560 L522,565.3 L514,570.7 L504.7,569.3 L503.3,565.3" fill="none" stroke="#cd3700" stroke-width="1.3" stroke-linejoin="round"/>
<path d="M463.3,554.7 L471.3,560 L479.3,566.7 L476.7,560 L468.7,553.3" fill="none" stroke="#cd3700" stroke-width="1.5" stroke-linejoin="round"/>
<path d="M459.3,621.3 L468.7,618.7 L476.7,624 L484.7,622.7" fill="none" stroke="#cd3700" stroke-width="1.4" stroke-linejoin="round"/>
<path d="M546,544 L564.7,546.7 L583.3,548 L610,546.7" fill="none" stroke="#cd3700" stroke-width="2.0" stroke-linejoin="round"/>
<path d="M590,558.7 L596.7,554.7 L610,553.3" fill="none" stroke="#cd3700" stroke-width="1.5" stroke-linejoin="round"/>
<path d="M545.3,580 L550.7,586.7 L556,594.7 L558.7,605.3 L566.7,612 L574.7,621.3 L585.3,624 L593.3,621.3 L597.3,625.3 L604,624 L609.3,633.3 L620,637.3 L628,638.9" fill="none" stroke="#cd3700" stroke-width="2.0" stroke-linejoin="round"/>
<path d="M622.7,525.3 L621.3,533.3 L617.3,536 L616.7,542.7 L612,545.3 L606.7,546.7 L598.7,549.3 L593.3,556 L590.7,564 L592,573.3" fill="none" stroke="#8b1a1a" stroke-width="2.6" stroke-linejoin="round"/>
<path d="M546.7,544 L556,546.7 L566.7,548" fill="none" stroke="#cd3700" stroke-width="1.8" stroke-linejoin="round"/>
<path d="M688,672 L694,678 L700,672" fill="none" stroke="#cd3700" stroke-width="1.6" stroke-linejoin="round"/>
<path d="M600,624 L608,632 L618,638 L628,644 L640,648 L650,650" fill="none" stroke="#8b1a1a" stroke-width="2.4" stroke-linejoin="round"/>
<path d="M492,582 L500,592 L502,604 L508,616 L504,626 L512,636 L520,644 L516,652" fill="none" stroke="#eeee00" stroke-width="1.6" stroke-linejoin="round"/>
<path d="M526,606 L520,614 L526,620 L522,628" fill="none" stroke="#eeee00" stroke-width="1.4" stroke-linejoin="round"/>
<path d="M544,610 L552,616 L558,626 L564,632 L576,630 L588,636 L600,642 L612,652 L618,662" fill="none" stroke="#eeee00" stroke-width="1.6" stroke-linejoin="round"/>
<path d="M552,630 L558,636 L568,634" fill="none" stroke="#cdad00" stroke-width="3" stroke-linejoin="round"/>
<path d="M534,644 L544,648 L556,646 L562,652" fill="none" stroke="#eeee00" stroke-width="1.4" stroke-linejoin="round"/>
<path d="M653.3,456.7 L660,458 L664,455.3" fill="none" stroke="#b3b3b3" stroke-width="3" stroke-linejoin="round"/>
<path d="M653.3,463.3 L660,464.7 L665.3,470 L673.3,468.7" fill="none" stroke="#b3b3b3" stroke-width="3" stroke-linejoin="round"/>
<path d="M660,464.7 L662.7,460.7" fill="none" stroke="#b3b3b3" stroke-width="2.5" stroke-linejoin="round"/>
<path d="M653.3,474 L662.7,476.7 L668,482" fill="none" stroke="#b3b3b3" stroke-width="3" stroke-linejoin="round"/>
<path d="M653.3,490 L660,488.7 L668,486 L678.7,487.3" fill="none" stroke="#b3b3b3" stroke-width="3.5" stroke-linejoin="round"/>
<path d="M668,486 L672,492.7 L678.7,496.7" fill="none" stroke="#b3b3b3" stroke-width="2.5" stroke-linejoin="round"/>
<path d="M653.3,503.3 L660,500.7 L666.7,502 L673.3,503.3 L681.3,502" fill="none" stroke="#b3b3b3" stroke-width="3" stroke-linejoin="round"/>
<path d="M666.7,502 L670.7,508.7 L678.7,511.3" fill="none" stroke="#b3b3b3" stroke-width="2.5" stroke-linejoin="round"/>
<path d="M653.3,514 L660,516.7 L665.3,514" fill="none" stroke="#b3b3b3" stroke-width="3" stroke-linejoin="round"/>
<path d="M654.7,524.7 L662.7,522 L668,524.7" fill="none" stroke="#b3b3b3" stroke-width="2.5" stroke-linejoin="round"/>
<path d="M614.7,470 L620,467.3 L626.7,468.7" fill="none" stroke="#b3b3b3" stroke-width="2.5" stroke-linejoin="round"/>
<path d="M620,476.7 L625.3,474 L632,476.7 L638.7,472.7" fill="none" stroke="#b3b3b3" stroke-width="2.5" stroke-linejoin="round"/>
<path d="M633.3,479.3 L636,484.7 L644,487.3" fill="none" stroke="#b3b3b3" stroke-width="2" stroke-linejoin="round"/>
</g>
<defs>
<filter id="spk" x="280" y="200" width="1300" height="692" filterUnits="userSpaceOnUse" color-interpolation-filters="sRGB">
<feTurbulence type="fractalNoise" baseFrequency="0.17 0.11" numOctaves="2" seed="5" result="n"/>
<feColorMatrix in="n" type="matrix" values="0 0 0 0 0  0 0 0 0 0  0 0 0 0 0  22 0 0 0 -13.2" result="m"/>
<feComposite in="SourceGraphic" in2="m" operator="in"/></filter>
<filter id="spk2" x="280" y="200" width="1300" height="692" filterUnits="userSpaceOnUse" color-interpolation-filters="sRGB">
<feTurbulence type="fractalNoise" baseFrequency="0.22" numOctaves="2" seed="11" result="n"/>
<feColorMatrix in="n" type="matrix" values="0 0 0 0 0  0 0 0 0 0  0 0 0 0 0  0 22 0 0 -13.4" result="m"/>
<feComposite in="SourceGraphic" in2="m" operator="in"/></filter>
<filter id="spk3" x="280" y="200" width="1300" height="692" filterUnits="userSpaceOnUse" color-interpolation-filters="sRGB">
<feTurbulence type="fractalNoise" baseFrequency="0.4" numOctaves="2" seed="3" result="n"/>
<feColorMatrix in="n" type="matrix" values="0 0 0 0 0  0 0 0 0 0  0 0 0 0 0  0 0 20 0 -11" result="m"/>
<feComposite in="SourceGraphic" in2="m" operator="in"/></filter>
</defs>
<g shape-rendering="crispEdges"><path d="M548.7,569.3 L594,568 L591.3,577.3 L548.7,578.7Z" fill="#cd3700" filter="url(#spk3)"/>
<path d="M730,698 L739,698 L738,714 L730,714Z" fill="#cd3700" filter="url(#spk3)"/>
<path d="M750,716 L757,716 L756,727 L750,726Z" fill="#ff4500" filter="url(#spk3)"/>
<path d="M422,423.3 L476.7,423.3 L476.7,454 L463.3,466 L443.3,495.3 L456.7,524.7 L483.3,528.9 L536.7,528.9 L542,503.3 L510,508.7 L470,516.7 L446,490 L443.3,460.7 L422,460.7Z" fill="#e6e6e6" filter="url(#spk)"/>
<path d="M451.3,423.3 L478,423.3 L483.3,454 L456.7,450Z" fill="#e6e6e6" filter="url(#spk2)"/>
<path d="M371.3,422 L416.7,422 L416.7,490 L403.3,476.7 L384.7,460.7 L372.7,442Z" fill="#4d4d4d" filter="url(#spk2)"/>
<path d="M484,296 L520,296 L516,332 L500,360 L500,398 L484,398Z" fill="#e6e6e6" filter="url(#spk)"/>
<path d="M545.3,423.3 L596,423.3 L593.3,474 L574.7,506 L564,528.9 L545.3,528.9Z" fill="#e6e6e6" filter="url(#spk2)"/>
<path d="M545.3,553.3 L646.7,553.3 L646.7,576 L593.3,578.7 L556,594.7 L545.3,594.7Z" fill="#e6e6e6" filter="url(#spk)"/>
<path d="M398,237 L481,237 L481,258 L398,258Z" fill="#b3b3b3" filter="url(#spk2)"/>
<path d="M490,580 L530,602 L543,624 L530,664 L484,668 L480,642Z" fill="#eeee00" filter="url(#spk2)"/>
<path d="M540,606 L580,616 L620,652 L624,696 L580,696 L576,676 L536,660 L534,636Z" fill="#eeee00" filter="url(#spk2)"/>
<path d="M544,612 L576,622 L590,642 L560,644 L540,636Z" fill="#cdad00" filter="url(#spk)"/>
<path d="M384,576 L500,576 L520,600 L500,636 L480,642 L440,626 L408,616Z" fill="#cd3700" filter="url(#spk2)"/>
<path d="M540,580 L600,588 L648,636 L648,700 L624,696 L612,646 L580,620 L544,608Z" fill="#cd3700" filter="url(#spk2)"/>
<path d="M836,552 L838,534 L848,522 L856,510 L868,502 L874,498 L880,506 L884,510 L894,513 L906,514 L910,506 L912,502 L920,501 L928,504 L936,510 L944,502 L949,496 L952,494 L960,498 L968,506 L980,510 L988,502 L1000,501 L1010,510 L1020,518 L1028,510 L1032,506 L1040,500 L1050,506 L1064,501 L1080,506 L1090,506 L1098,509 L1100,515.3 L1105.3,511.3 L1112,508.7 L1120,510 L1122.7,519.3 L1126.7,523.3 L1132,530 L1137.3,527.3 L1144,520.7 L1148,519.3 L1150.7,524.7 L1158.7,528.7 L1162.7,524.7 L1170.7,523.3 L1174.7,530 L1180,532.7 L1185.3,524.7 L1190.7,523.3 L1193.3,528.7 L1198.7,531.3 L1205.3,526 L1209.3,523.3 L1212,522 L1214.7,526 L1220,524.7 L1226.7,520.7 L1233.3,519.3 L1230.7,526 L1226.7,530 L1225.3,535.3 L1224,539.3 L1220,542 L1214.7,546 L1206.7,551.3 L1204,555.3 L1210.7,552.7 L1217.3,552.7 L1220,556.7 L1222.7,562 L1224,564.7 L1225.3,570 L1222.7,575.3 L1217.3,578 L1213.3,583.3 L1212,586 L1216,582 L1225.3,575.3 L1228,570 L1230.7,564.7 L1241.3,562 L1242.7,556.7 L1250.7,550 L1253.3,546 L1258.7,538 L1265.3,531.3 L1273.3,527.3 L1278.7,530 L1282.7,523.3 L1292,519.3 L1297.3,512.7 L1304,507.3 L1309.3,511.3 L1313.3,500.7 L1320,495.3 L1326.7,492.7 L1332,490 L1333,487 L1340,484 L1346,481 L1353,479.5 L1358,474 L1361,476 L1360.5,485 L1363,491 L1368,495 L1373,499 L1373,485 L1368,481 L1363,477 L1360.5,471 L1361,462 L1358,460 L1353,465.5 L1346,467 L1340,470 L1333,473 L1332,476 L1326.7,478.7 L1320,481.3 L1313.3,486.7 L1309.3,497.3 L1304,493.3 L1297.3,498.7 L1292,505.3 L1282.7,509.3 L1278.7,516 L1273.3,513.3 L1265.3,517.3 L1258.7,524 L1253.3,532 L1250.7,536 L1242.7,542.7 L1241.3,548 L1230.7,550.7 L1228,556 L1225.3,561.3 L1216,568 L1212,572 L1213.3,569.3 L1217.3,564 L1222.7,561.3 L1225.3,556 L1224,550.7 L1222.7,548 L1220,542.7 L1217.3,538.7 L1210.7,538.7 L1204,541.3 L1206.7,537.3 L1214.7,532 L1220,528 L1224,525.3 L1225.3,521.3 L1226.7,516 L1230.7,512 L1233.3,505.3 L1226.7,506.7 L1220,510.7 L1214.7,512 L1212,508 L1209.3,509.3 L1205.3,512 L1198.7,517.3 L1193.3,514.7 L1190.7,509.3 L1185.3,510.7 L1180,518.7 L1174.7,516 L1170.7,509.3 L1162.7,510.7 L1158.7,514.7 L1150.7,510.7 L1148,505.3 L1144,506.7 L1137.3,513.3 L1132,516 L1126.7,509.3 L1122.7,505.3 L1120,496 L1112,494.7 L1105.3,497.3 L1100,501.3 L1098,495 L1090,492 L1080,492 L1064,487 L1050,492 L1040,486 L1032,492 L1028,496 L1020,504 L1010,496 L1000,487 L988,488 L980,496 L968,492 L960,484 L952,480 L949,482 L944,488 L936,496 L928,490 L920,487 L912,488 L910,492 L906,500 L894,499 L884,496 L880,492 L874,484 L868,488 L856,496 L848,508 L838,520 L836,538Z" fill="#b3b3b3" filter="url(#spk)"/>
<path d="M836,552 L838,534 L848,522 L856,510 L868,502 L874,498 L880,506 L884,510 L894,513 L906,514 L910,506 L912,502 L920,501 L928,504 L936,510 L944,502 L949,496 L952,494 L960,498 L968,506 L980,510 L988,502 L1000,501 L1010,510 L1020,518 L1028,510 L1032,506 L1040,500 L1050,506 L1064,501 L1080,506 L1090,506 L1098,509 L1100,515.3 L1105.3,511.3 L1112,508.7 L1120,510 L1122.7,519.3 L1126.7,523.3 L1132,530 L1137.3,527.3 L1144,520.7 L1148,519.3 L1150.7,524.7 L1158.7,528.7 L1162.7,524.7 L1170.7,523.3 L1174.7,530 L1180,532.7 L1185.3,524.7 L1190.7,523.3 L1193.3,528.7 L1198.7,531.3 L1205.3,526 L1209.3,523.3 L1212,522 L1214.7,526 L1220,524.7 L1226.7,520.7 L1233.3,519.3 L1230.7,526 L1226.7,530 L1225.3,535.3 L1224,539.3 L1220,542 L1214.7,546 L1206.7,551.3 L1204,555.3 L1210.7,552.7 L1217.3,552.7 L1220,556.7 L1222.7,562 L1224,564.7 L1225.3,570 L1222.7,575.3 L1217.3,578 L1213.3,583.3 L1212,586 L1216,582 L1225.3,575.3 L1228,570 L1230.7,564.7 L1241.3,562 L1242.7,556.7 L1250.7,550 L1253.3,546 L1258.7,538 L1265.3,531.3 L1273.3,527.3 L1278.7,530 L1282.7,523.3 L1292,519.3 L1297.3,512.7 L1304,507.3 L1309.3,511.3 L1313.3,500.7 L1320,495.3 L1326.7,492.7 L1332,490 L1333,487 L1340,484 L1346,481 L1353,479.5 L1358,474 L1361,476 L1360.5,485 L1363,491 L1368,495 L1373,499 L1373,511 L1368,507 L1363,503 L1360.5,497 L1361,488 L1358,486 L1353,491.5 L1346,493 L1340,496 L1333,499 L1332,502 L1326.7,504.7 L1320,507.3 L1313.3,512.7 L1309.3,523.3 L1304,519.3 L1297.3,524.7 L1292,531.3 L1282.7,535.3 L1278.7,542 L1273.3,539.3 L1265.3,543.3 L1258.7,550 L1253.3,558 L1250.7,562 L1242.7,568.7 L1241.3,574 L1230.7,576.7 L1228,582 L1225.3,587.3 L1216,594 L1212,598 L1213.3,595.3 L1217.3,590 L1222.7,587.3 L1225.3,582 L1224,576.7 L1222.7,574 L1220,568.7 L1217.3,564.7 L1210.7,564.7 L1204,567.3 L1206.7,563.3 L1214.7,558 L1220,554 L1224,551.3 L1225.3,547.3 L1226.7,542 L1230.7,538 L1233.3,531.3 L1226.7,532.7 L1220,536.7 L1214.7,538 L1212,534 L1209.3,535.3 L1205.3,538 L1198.7,543.3 L1193.3,540.7 L1190.7,535.3 L1185.3,536.7 L1180,544.7 L1174.7,542 L1170.7,535.3 L1162.7,536.7 L1158.7,540.7 L1150.7,536.7 L1148,531.3 L1144,532.7 L1137.3,539.3 L1132,542 L1126.7,535.3 L1122.7,531.3 L1120,522 L1112,520.7 L1105.3,523.3 L1100,527.3 L1098,521 L1090,518 L1080,518 L1064,513 L1050,518 L1040,512 L1032,518 L1028,522 L1020,530 L1010,522 L1000,513 L988,514 L980,522 L968,518 L960,510 L952,506 L949,508 L944,514 L936,522 L928,516 L920,513 L912,514 L910,518 L906,526 L894,525 L884,522 L880,518 L874,510 L868,514 L856,522 L848,534 L838,546 L836,564Z" fill="#4d4d4d" filter="url(#spk2)"/>
<path d="M776,656 L790,648 L800,640 L812,632 L816,614 L830,610 L840,606 L843,615 L850,614 L858,612 L868,606 L884,608 L888,588 L896,584 L906,592 L920,594 L930,588 L940,580 L950,586 L954,590 L959,590 L970,588 L986,598 L1000,596 L1008,588 L1020,582 L1032,588 L1048,596 L1050,598 L1064,596 L1080,594 L1090,598 L1106,602 L1120,603 L1132,600 L1140,598 L1140,606 L1152,612 L1164,622 L1180,626 L1190,632 L1200,628 L1208,622 L1224,620 L1236,620 L1252,616 L1268,614 L1280,610 L1290,606 L1300,610 L1306,614 L1316,612 L1320,616 L1340,616 L1340,604 L1320,604 L1316,600 L1306,602 L1300,598 L1290,594 L1280,598 L1268,602 L1252,604 L1236,608 L1224,608 L1208,610 L1200,616 L1190,620 L1180,614 L1164,610 L1152,600 L1140,594 L1140,586 L1132,588 L1120,591 L1106,590 L1090,586 L1080,582 L1064,584 L1050,586 L1048,584 L1032,576 L1020,570 L1008,576 L1000,584 L986,586 L970,576 L959,578 L954,578 L950,574 L940,568 L930,576 L920,582 L906,580 L896,572 L888,576 L884,596 L868,594 L858,600 L850,602 L843,603 L840,594 L830,598 L816,602 L812,620 L800,628 L790,636 L776,644Z" fill="#e6e6e6" filter="url(#spk2)"/>
<path d="M776,656 L790,648 L800,640 L812,632 L816,614 L830,610 L840,606 L843,615 L850,614 L858,612 L868,606 L884,608 L888,588 L896,584 L906,592 L920,594 L930,588 L940,580 L950,586 L954,590 L959,590 L970,588 L986,598 L1000,596 L1008,588 L1020,582 L1032,588 L1048,596 L1050,598 L1064,596 L1080,594 L1090,598 L1106,602 L1120,603 L1132,600 L1140,598 L1140,606 L1152,612 L1164,622 L1180,626 L1190,632 L1200,628 L1208,622 L1224,620 L1236,620 L1252,616 L1268,614 L1280,610 L1290,606 L1300,610 L1306,614 L1316,612 L1320,616 L1340,616 L1340,628 L1320,628 L1316,624 L1306,626 L1300,622 L1290,618 L1280,622 L1268,626 L1252,628 L1236,632 L1224,632 L1208,634 L1200,640 L1190,644 L1180,638 L1164,634 L1152,624 L1140,618 L1140,610 L1132,612 L1120,615 L1106,614 L1090,610 L1080,606 L1064,608 L1050,610 L1048,608 L1032,600 L1020,594 L1008,600 L1000,608 L986,610 L970,600 L959,602 L954,602 L950,598 L940,592 L930,600 L920,606 L906,604 L896,596 L888,600 L884,620 L868,618 L858,624 L850,626 L843,627 L840,618 L830,622 L816,626 L812,644 L800,652 L790,660 L776,668Z" fill="#b3b3b3" filter="url(#spk)"/>
<path d="M820,742 L828,752 L840,753 L856,751 L872,747 L882,738 L880,726 L888,714 L896,716 L906,718 L920,720 L932,716 L944,712 L956,718 L968,720 L974,726 L986,722 L1000,726 L1012,728 L1024,730 L1036,736 L1048,736 L1058,742 L1060,752 L1048,757 L1036,758 L1026,753 L1016,745 L1008,742 L1000,746 L984,742 L971,738 L960,744 L952,739 L944,742 L950,750 L942,756 L932,762 L928,754 L922,748 L916,744 L912,734 L900,732 L890,740 L880,748 L868,750 L852,754 L836,759 L830,754Z" fill="#eeee00" filter="url(#spk2)"/>
<path d="M1204,748 L1210,744 L1220,744 L1228,738 L1232,742 L1236,754 L1240,764 L1230,765 L1220,764 L1214,770 L1209,766 L1207,758Z" fill="#eeee00" filter="url(#spk2)"/>
<path d="M1113.3,626.7 L1126.7,624 L1132,616 L1134.7,609.3 L1142.7,606.7 L1148,610.7 L1158.7,609.3 L1165.3,616 L1169.3,620 L1180,616 L1192,614.7 L1193.3,609.3 L1202.7,604 L1221.3,602.7 L1221.3,629.3 L1208,629.3 L1201.3,626.7 L1190.7,626.7 L1180,626.7 L1169.3,624 L1161.3,629.3 L1153.3,634.7 L1150.7,645.3 L1144,650.7 L1138.7,649.3 L1144,640 L1142.7,632 L1132,634.7 L1126.7,634.7Z" fill="#ff4500" filter="url(#spk2)"/>
<path d="M1092,624 L1097.3,617.3 L1102.7,618.7 L1110.7,624 L1124,622.7 L1130.7,616 L1132,609.3 L1140,605.3 L1153.3,605.3 L1164,610.7 L1166.7,618.7 L1184,613.3 L1201.3,602.7 L1221.3,601.3 L1221.3,632 L1190.7,630.7 L1182.7,632 L1166.7,626.7 L1156,637.3 L1148,653.3 L1138.7,653.3 L1140,634.7 L1126.7,640 L1113.3,632 L1100,626.7Z" fill="#cd3700" filter="url(#spk)"/>
<path d="M1152,610 L1168,618 L1180,616 L1192,613 L1202,606 L1220,606 L1225,612 L1224,622 L1216,625 L1204,626 L1198,632 L1188,633 L1180,629 L1168,626 L1160,630 L1152,630 L1148,622Z" fill="#ff4500" filter="url(#spk2)"/>
<path d="M1138,610 L1160,606 L1180,614 L1200,604 L1226,610 L1236,616 L1256,614 L1280,604 L1306,588 L1332,582 L1340,588 L1340,606 L1320,610 L1292,608 L1268,616 L1240,624 L1206,628 L1188,636 L1164,632 L1148,636 L1138,628Z" fill="#cd3700" filter="url(#spk)"/>
<path d="M1240,606 L1264,606 L1286,598 L1308,590 L1332,584 L1340,590 L1340,604 L1320,608 L1294,606 L1276,612 L1252,616 L1242,614Z" fill="#ff4500" filter="url(#spk2)"/>
<path d="M1282,595 L1300,594 L1306,578 L1330,579 L1342,589 L1340,605 L1325,611 L1304,615 L1290,609Z" fill="#8b1a1a" filter="url(#spk2)"/>
<path d="M371,237.5 L398,237.5 L396,244 L390,248 L388,258 L392,268 L387,278 L386,288 L386,298 L382,308 L380,318 L374,318 L370,308 L374,298 L374,290 L379,278 L382,268 L380,258 L374,250 L370,244Z" fill="#00b2ee" filter="url(#spk3)"/>
<path d="M380,266 L389,266 L387,278 L384,288 L379,288 L379,278Z" fill="#1740e0" filter="url(#spk3)"/>
<path d="M338,260 L348,260 L355,266 L354,272 L348,275 L342,270Z" fill="#00b2ee" filter="url(#spk3)"/>
<path d="M339,261 L350,262 L354,270 L348,274 L343,269Z" fill="#b3b3b3" filter="url(#spk)"/>
<path d="M368.7,302.7 L384.7,300 L384.7,321.3 L376.7,324 L372.7,313.3Z" fill="#00b2ee" filter="url(#spk3)"/>
</g>
</g>
<path d="M1383,458 L1388,452.6 L1404,448.1 L1421,444.1 L1434.5,443.6 L1434.5,445.8 L1421,450.7 L1405,456.8 L1389,460.2 L1382,460Z" fill="#b3b3b3"/>
<path d="M1340,520 L1343.5,518 L1349,526 L1346.5,534 L1346,548 L1343,551 L1340.5,540 L1341,530Z" fill="#e6e6e6"/>
<path d="M1356,476 L1360,474 L1359,482 L1361,489 L1365,493 L1370,495 L1367,496.2 L1363,502 L1359,496 L1356,490 L1355,480Z" fill="#e6e6e6"/>
<path d="M1068,263.3 L1074.7,259.3 L1083.3,256.4 L1084.7,258.3 L1080,262.7 L1072,267.1 L1069.1,267.3Z" fill="#4d4d4d"/>
<path d="M1036.3,288 L1041.3,285.3 L1043.3,288 L1040.7,292 L1037.3,292.7Z" fill="#4d4d4d"/>
<path d="M1141.3,320.7 L1146,319.1 L1149.1,320.7 L1146.7,325.3 L1143.3,326.3Z" fill="#4d4d4d"/>
<path d="M1137.3,328.7 L1140.3,328 L1140,331.1 L1137.6,331.3Z" fill="#4d4d4d"/>
<path d="M1131.3,339.3 L1134.7,336 L1136.7,338.7 L1133.3,342.3Z" fill="#4d4d4d"/>
<path d="M1177.3,311.6 L1188.7,311.3 L1189.3,316 L1178.7,316.7Z" fill="#4d4d4d"/>
<path d="M1164.3,316.4 L1169.1,316 L1169.3,320.4 L1165.3,320.7Z" fill="#4d4d4d"/>
<path d="M1172,300.4 L1176.7,300.4 L1176.7,308.7 L1173.3,308.7Z" fill="#4d4d4d"/>
<path d="M1115.7,328.4 L1119.7,328 L1119.3,331.6 L1116.3,332Z" fill="#4d4d4d"/>
<path d="M1343,589 L1359,588 L1357.5,599 L1348,603 L1342,607 L1340,601Z" fill="#8b1a1a"/>
<path d="M449,645 L454,646 L455,650 L450,649Z" fill="#cdad00"/>
<path d="M449,656 L452,656 L455,663 L452,664Z" fill="#cdad00"/>
<path d="M410,629 L420,627.6 L430,628.4 L431,631.6 L422,634 L412,632.8Z" fill="#e6e6e6"/>
<path d="M428,649 L432,649 L432,654 L428.4,653.6Z" fill="#d0d0d0"/>
<path d="M440,644.4 L441.2,644.4 L441.2,646 L440,646Z" fill="#eeee00"/>
<path d="M1200,877.6 L1202.4,877.2 L1202.8,879.2 L1200.4,879.6Z" fill="#1e7a1e"/>
<path d="M1215.6,879.2 L1219.6,878 L1220,880 L1216,880.8Z" fill="#1e7a1e"/>
<path d="M1225,878.4 L1230,875 L1236,873 L1242.4,874 L1240,877 L1234,878.4 L1228,880.4Z" fill="#1e7a1e"/>
<path d="M1245,873 L1249,868 L1253,864 L1254.4,866 L1250,871 L1246.4,874.6Z" fill="#1e7a1e"/>
<path d="M1255.6,860 L1258.4,855.6 L1259.6,857 L1257.2,862Z" fill="#1e7a1e"/>
<path class="b" d="M360,235.6 L941,235.6 L941,226 L951,226 L953,240 L960,243 L972,247 L978,245 L988,245 L996,248 L1000,252 L1006.7,252 L1013.3,256.7 L1021.3,258.7 L1030.7,255.3 L1036,258 L1045.3,258.7 L1053.3,260.7 L1063.3,262 L1053.3,266 L1040,270 L1029.3,275.3 L1020,283.3 L1008,292.7 L1001.3,297.3 L1009.3,296 L1020,292.7 L1029.3,289.3 L1033.1,288.4 L1034,292.7 L1031.6,298.3 L1034.9,297.1 L1040,296.7 L1046,299.1 L1053.3,293.3 L1062.7,291.3 L1070.7,286.7 L1077.3,282 L1082.7,278.7 L1088,276 L1096,274.9 L1100,276.7 L1099.3,278.7 L1093.3,281.3 L1088,286 L1084.3,290 L1083.3,294.7 L1087.3,289.7 L1093.3,289.3 L1101.3,292 L1105.3,296.7 L1108.7,300.7 L1114.7,300.7 L1120,302.7 L1126.7,299.3 L1133.3,296 L1144,295.3 L1150.7,294 L1158,294 L1157.1,300 L1162.7,302 L1172,301.3 L1174,306 L1176,310.7 L1180,314.7 L1173.3,314 L1164,315.6 L1160,316.7 L1153.3,313.3 L1146.7,312 L1138.7,314 L1129.3,315.3 L1126,318 L1124.7,321.3 L1120.7,320 L1117.3,316.7 L1114.7,316.7 L1113.3,319.3 L1110.7,324.7 L1106.7,331.3 L1102.7,338 L1097.3,343.3 L1093.3,348.7 L1092,352.7 L1096,351.3 L1101.3,343.3 L1106.7,336.7 L1113.3,328.7 L1117.6,325.3 L1116.3,330 L1113.3,335.3 L1110.7,342 L1106.7,348.7 L1104,355.3 L1103.3,360.7 L1101.6,368.9 L1097,384 L1098,398 L1099,414 L1106,426 L1112,428 L1124,422 L1132,408 L1132,398 L1128,380 L1126,368 L1126.7,363.3 L1129.3,356.7 L1130.7,350 L1134.7,346 L1141.3,342 L1143.3,346 L1146,343.3 L1146.7,335.3 L1150.7,331.3 L1156,330 L1154.7,324.7 L1157.3,319.3 L1164,319.3 L1172,323.3 L1180,326.7 L1189.3,330 L1193.3,336.7 L1192,343.3 L1193.6,348.7 L1192,355.3 L1187,364 L1180,369 L1180,375 L1185,377 L1193,368 L1200,365 L1206,369 L1209,386 L1211,398 L1204,404 L1198,410 L1194,418 L1189,428 L1200,434 L1208,435 L1220,433 L1232,426 L1250,420 L1264,414 L1276,406 L1286,398 L1283,394 L1282,386 L1296,384 L1308,384 L1314,387 L1326,385 L1338,379 L1341,372 L1339,366 L1350,358 L1354,352 L1362,344 L1370,340 L1440,340 L1442,334 L1449,332 L1456,331 L1460,324 L1468,314 L1466,308 L1472,296 L1480,284 L1489,275 L1493,281 L1500,280 L1509,278 L1516,282 L1521,287 L1521,318 L1527,325 L1528,334 L1535,337 L1536,346 L1530,350 L1520,354 L1510,358 L1500,354 L1494,360 L1492,366 L1480,372 L1472,376 L1464,384 L1458,392 L1456,397 L1457,396 L1456,400 L1460,402.5 L1457,406 L1452,409 L1450,412 L1454,413.5 L1457,415 L1460,420 L1462,425 L1468,427 L1474,428 L1475.2,424 L1472.5,419 L1468,417.5 L1472.5,419 L1475.2,424 L1474,429 L1469,431.5 L1464,432.2 L1459,430.5 L1455,432.5 L1452,430 L1449,429.5 L1443,432 L1440,435 L1435,436 L1420,438 L1410,439 L1400,442 L1394,444 L1391,446 L1389,451 L1384,456 L1382,459 L1389,462 L1390,469 L1388,477 L1388.8,480 L1383,487 L1376,493 L1371,500 L1370,495 L1365,493 L1361,489 L1359,482 L1360,474 L1356,476 L1355,480 L1356,490 L1359,496 L1363,502 L1366,506 L1367,512 L1365,516 L1361,524 L1358,530 L1354,536 L1351,542 L1348,549 L1346,548 L1346,540 L1347,534 L1348,530 L1351,524 L1350,522 L1346,517 L1342,514 L1343,510 L1339,503 L1340,492 L1344,485 L1350,480 L1343,483 L1337,490 L1335,500 L1335,510 L1333,514 L1337,522 L1340,528 L1341,534 L1340,540 L1341,546 L1343,551 L1346,554 L1346,551 L1347,557 L1349,563.5 L1352,571 L1355,578 L1357,583.5 L1352,589 L1348,593 L1342,598 L1340,605 L1338,610 L1333,613 L1325,614 L1317,617 L1310,623 L1307,629 L1305,634 L1292,634 L1284,642 L1278,650 L1276,652 L1264,662 L1250,670 L1244,680 L1238,692 L1232,704 L1231,714 L1234,732 L1238,748 L1244,764 L1247,770 L1249,782 L1255,798 L1260,812 L1262,822 L1261,836 L1260,847 L1257,854 L1254,862 L1244,864 L1238,863 L1236,858 L1232,850 L1228,844 L1224,842 L1222,832 L1217,824 L1216,818 L1211,810 L1206,802 L1208,796 L1202,792 L1204,780 L1206,768 L1202,760 L1194,754 L1188,744 L1180,736 L1173,734 L1170,738 L1160,742 L1149,744 L1146,736 L1140,729 L1130,725 L1116,724 L1105,724 L1101,724 L1096,726 L1094,716 L1091,716 L1090,728 L1086,726 L1072,725 L1064,734 L1064,742 L1069,754 L1071,760 L1067,764 L1063,761 L1060,754 L1056,751 L1048,757 L1036,758 L1026,753 L1016,745 L1008,742 L1000,746 L984,742 L972,741 L968,743 L960,747 L952,741 L947,744 L950,749 L944,754 L932,762 L920,770 L912,774 L908,778 L900,785 L896,790 L893,796 L890,800 L886.4,804 L892,808 L893,820 L897,832 L901,841 L896,844 L890,841 L880,840 L872,836 L860,831 L856,820 L851,810 L850,802 L842,794 L834,782 L828,770 L824,760 L818,752 L810,743 L800,742 L788,742 L782,748 L778,757 L772,763 L760,756 L748,746 L742,734 L738,722 L726,714 L720,706 L708,696 L702,688 L667,689 L667,701 L606,701 L528,670 L529,667 L533,664 L481,669 L478,664 L477,658 L474,650 L468,642 L460,637 L454,636 L450,630 L440,627 L432,621 L424,619 L410,618 L406,615 L407,605 L404,599 L402,593 L394,584 L385,576 L380,564 L380,554 L370,546 L367,539 L370,536 L368,528 L364,526 L357,520 L350,510 L342,498 L341,488 L337,478 L331,468 L327,458 L331,446 L333,430 L330,419.4 L328,406 L322,398 L326,390 L330,376 L333,360 L335,344 L337,324 L336,308 L335,306 L336.5,300 L338,296 L336,292 L340,288 L333,287 L331,282 L328,274 L325,268 L321,262 L319.5,255 L321,251.5 L328,253.5 L335,256 L345,257.5 L354,258 L360,259 L362,264 L359,270 L354,274 L353,280 L355,285 L359,288 L366,285 L371,280 L370,276 L372,271 L371,265 L374,261 L370,254 L369,248 L369,243 L366,241 L360.5,239Z"/>
<path class="b" d="M1383,458 L1388,452.6 L1404,448.1 L1421,444.1 L1434.5,443.6 L1434.5,445.8 L1421,450.7 L1405,456.8 L1389,460.2 L1382,460Z"/>
<path class="b" d="M1042,732 L1048,726 L1058,730 L1056,736Z"/>
<path class="b" d="M336,307.4 L348,308 L358,314 L362,324 L370,326 L380,323 L394,324 L412,321 L428,317 L440,314 L460,313 L482.4,313 M482,235.6 L482,308 L483.6,313 L487,315 L493,320 L494,326 L490,332 L487,340 L480,350 L478,358 L483,361 L483,368 L482,372 L482,398 L482,419.4 M502.4,235.6 L502.4,260 L508,272 L512,278 L522,286 L530,294 L538,297 L538,306 L535,316 L534,324 L539,328 L547,322 L551,328 L555,338 L560,344 L566,348 L569,357 L580,353 L592,351 L600,348 L604,351 L608,354 M330,419.4 L608,419.4 M419,419.4 L419,498 L532,602 M544.4,419.4 L544.4,572 L539,577 L530,576 L532,602 M532,602 L536,610 L540,619 L543,624 L538,629 L534,636 L533,644 L530,650 L532,656 L536,658 L534,663 L533,664 M544.4,551.5 L954,551.5 M608,419.4 L608,341 L755,341 M608,419.4 L608,446 L797.6,446 M649.8,446 L649.8,701 M755,235.6 L755,446 M755,316 L914,314.4 M755,393.5 L868,393.5 L876,398 L900,399 L912,404 L918,414 L924,428 L928,442 L929,456 L936,466 L942,474 L948,477 L944,484 L950,491 L954,493 L954,566 M797.6,446 L797.6,551.5 M797.6,472.3 L938.4,472.4 M899,236 L902,244 L901,256 L907,270 L909,286 L913,304 L914,314 L907,324 L910,329 L915,332 L917,340 L917,380 L912,382 L915,390 L913,398 L915,406 M917,380 L1026,380 M1001.3,297.3 L1002,312 L992,318 L989,324 L994,329 L992,338 L993,348 L1004,354 L1012,358 L1020,366 L1025,370 L1026,380 L1030,386 L1029,398 L1038,404 L1046,412 L1048,420 L1044,430 L1032,434 L1028,440 L1031,446 L1026,454 L1020,458 L1019,466 L1022,476 L1032,488 L1038,498 L1048,502 L1048,510 L1044,518 L1052,526 L1060,534 L1064,544 L1068,550 L1069,558 L1060,564 L1058,576 L1058,582 L1052,586 L1048,594 L1048,602 L1042,610 L1038,620 L1031,628 L1028,636 L1026,644 L1029,652 L1026,656.4 L1030,666 L1032,676 L1026,680 L1029,685 L1022,694 L1018,704 L1018,710 L1058,710 L1058,720 L1060,728 L1064,734 M929,456.6 L1019,456.6 M1038,406.6 L1098.4,406.6 M1046,299.6 L1048,305.3 L1060,308.7 L1072,312 L1080,315.3 L1090.7,316.7 L1096,322 L1098,327.3 L1096,331.3 L1100,335.3 L1102.7,338 M1103,427.6 L1103,494 L1104,504 L1098,516 L1092,526 L1090,536 M1068,550 L1070,547 L1078,546 L1086,542 L1090,536 L1094,528 L1102,526 L1110,529 L1120,523 L1130,524 L1140,518 L1148,508 L1158,504 L1161,496 L1170,498 L1180,506 L1190,508 L1200,507 L1208,516 L1212,512 L1216,504 L1220,498 L1226,490 L1234,486 L1242,480 L1246,468 L1249,456 L1251,456 L1251,421 M1126,424 L1140,425 L1161,426 L1189,428 M1161,426 L1161,496 M1251,456 L1251,480 L1353,479.5 M1265,414 L1267,414 L1267,419 L1360,419.5 M1360,419.5 L1364.5,424 L1366,429 L1369,433.5 L1371,436 L1369,441 L1365,446 L1364.5,450.5 L1363,455 L1366,460 L1370,465 L1374,468.5 L1368,471 L1363,475 L1357,478 L1352,479 L1359,475 M1371,436 L1380,440.5 L1391,446 M1208,516 L1206,522 L1210,530 L1218,540 L1208,546 L1200,554 L1192,559 L1186,561 M1294,487 L1294,493 L1290,498 L1285,502 L1283,506 L1278,510 L1270,510 L1267,515 L1263,522 L1259,528 L1256,534 L1252,540 L1250,541 L1244,540 L1236,544 L1226,545 L1218,540 M1272.5,479.5 L1272.5,494 L1280,489 L1287,484.5 L1294,487 M1294,487 L1298,488 L1302,485 L1306,483 L1309,486 L1310,493 L1315,495 L1320,498 L1326,500 L1326,503 L1322,507 L1319,511 L1319,515 L1323,514 L1327,517 L1333,520 L1337,522 M1359,475 L1355,477 L1353,479.5 L1353,515 L1365,515.5 M1350,523 L1360,524.5 M1060,564 L1089,564 L1090,560 L1140,559.5 L1186,561 L1200,563 L1348,563.5 M954,564 L1048,564 L1045,572 L1044,577 L1060,577 M1048,604 L1170,603.3 L1194,602 M1226,563 L1222,570 L1219,576 L1206,579 L1194,586 L1184,590 L1174,596 L1170,602.4 M1092,604 L1087,656 L1083,688 L1086,726 M1145,604 L1152,656 L1159,676 L1154,688 L1154,704 L1155.6,709.6 L1159,717 M1101,724 L1101,709.6 L1155.6,709.6 M1159,717 L1217,723 L1217,727 L1220,714 L1228,716 L1231,714 M1194,602 L1191,612 L1202,620 L1208,630 L1216,640 L1224,652 L1232,660 L1236,672 L1238,682 L1244,680 M1194,602 L1210,599 L1213,598.5 L1240,599.5 L1244,604 L1246,608.5 L1269,609 L1290,632 L1293,634 M966.4,656.4 L1026,656.4 M966,642 L966.4,656 L966.4,684 L971,696 L978,714 L974,730 L971,741 M776.4,565.6 L841,565.6 L841,616 L848,620 L856,620 L860,626 L870,628 L880,629 L886,635 L894,634 L900,638 L908,634 L918,639 L924,635 L934,632 L942,632 L950,637 L958,641 L966,642 M954,564 L958,600 L959,641 M776.4,551.6 L776.4,684 L700,684 L702,689 M702,689 L667,689 M1440,340 L1439,348 L1436,356 L1430,360 L1428,368 L1423,380 L1420,390 L1419,398 L1419,400.5 M1401,340 L1402,360 L1400,368 L1402,380 L1404,398 L1404.5,400.5 L1401,410 L1398,418.5 L1397,435 L1397,444 M1449,332 L1450,360 L1452,380 L1454,392 L1456,397 M1404.5,400.5 L1445,401 L1450,397.5 L1457,396 M1398,419 L1444,419 L1446,425 L1449,429 M1435,419 L1435,436"/>
<path d="M1060,750 L1064,757 L1070,758 L1069,763 L1064.4,762" fill="none" stroke="#000" stroke-width="5" stroke-linejoin="round" stroke-linecap="round"/>
<path d="M947,744 L950,748 L953,744" fill="none" stroke="#000" stroke-width="4.5" stroke-linejoin="round" stroke-linecap="round"/>
<path d="M912,771 L917,769 L920,772" fill="none" stroke="#000" stroke-width="5" stroke-linejoin="round" stroke-linecap="round"/>
<path d="M887,805 L891,806.4" fill="none" stroke="#000" stroke-width="4.5" stroke-linejoin="round" stroke-linecap="round"/>
<path d="M892.4,793 L897,794" fill="none" stroke="#000" stroke-width="4.5" stroke-linejoin="round" stroke-linecap="round"/>
<path d="M900,784 L905,783" fill="none" stroke="#000" stroke-width="4.5" stroke-linejoin="round" stroke-linecap="round"/>
<path d="M1170,737.6 L1172,734" fill="none" stroke="#000" stroke-width="5" stroke-linejoin="round" stroke-linecap="round"/>
<path d="M1330,569 L1331,575 L1338,573 L1344,570 L1350,575" fill="none" stroke="#000" stroke-width="6" stroke-linejoin="round" stroke-linecap="round"/>
<path d="M1330,575 L1334,579 L1340,578 L1346,580 L1350,583 L1355.5,584" fill="none" stroke="#000" stroke-width="6" stroke-linejoin="round" stroke-linecap="round"/>
<path d="M1325,591 L1330,592 L1336,589 L1342,592 L1348,589 L1352,585" fill="none" stroke="#000" stroke-width="6" stroke-linejoin="round" stroke-linecap="round"/>
<path d="M1324,601 L1330,603 L1336,601 L1340,605 L1335,610" fill="none" stroke="#000" stroke-width="7" stroke-linejoin="round" stroke-linecap="round"/>
<path d="M1340,605 L1340,597 L1344,593" fill="none" stroke="#000" stroke-width="6" stroke-linejoin="round" stroke-linecap="round"/>
<path d="M1330,595 L1334,599 L1339,597" fill="none" stroke="#000" stroke-width="5" stroke-linejoin="round" stroke-linecap="round"/>
<path d="M1316,611 L1318,614 L1322,610 L1324,614" fill="none" stroke="#000" stroke-width="4" stroke-linejoin="round" stroke-linecap="round"/>
<path d="M1325,545 L1330,549 L1338,553 L1344,551 L1348,547" fill="none" stroke="#000" stroke-width="6" stroke-linejoin="round" stroke-linecap="round"/>
<path d="M1338,553 L1340,549 L1344,545" fill="none" stroke="#000" stroke-width="5" stroke-linejoin="round" stroke-linecap="round"/>
<path d="M1338,488 L1336,496 L1335,504 L1335,512 L1337,520" fill="none" stroke="#000" stroke-width="7" stroke-linejoin="round" stroke-linecap="round"/>
<path d="M1344,485 L1341,493 L1340,503 L1343,510" fill="none" stroke="#000" stroke-width="5" stroke-linejoin="round" stroke-linecap="round"/>
<path d="M1319,515 L1327,517 L1333,520 L1337,522" fill="none" stroke="#000" stroke-width="6" stroke-linejoin="round" stroke-linecap="round"/>
<path d="M1326,525 L1338,534" fill="none" stroke="#000" stroke-width="5" stroke-linejoin="round" stroke-linecap="round"/>
<path d="M1329,538 L1339,546" fill="none" stroke="#000" stroke-width="5" stroke-linejoin="round" stroke-linecap="round"/>
<path d="M1326,545 L1337,552" fill="none" stroke="#000" stroke-width="6" stroke-linejoin="round" stroke-linecap="round"/>
<path d="M1337,522 L1340,528 L1341,534 L1340,540 L1341,546 L1343,551 L1346,554" fill="none" stroke="#000" stroke-width="6" stroke-linejoin="round" stroke-linecap="round"/>
<path d="M1346,517 L1350,522 L1351,524" fill="none" stroke="#000" stroke-width="5" stroke-linejoin="round" stroke-linecap="round"/>
<path d="M1468,417.8 L1472.5,419.2 L1475,424 L1474,428.5 L1469,428.5 L1463,427" fill="none" stroke="#000" stroke-width="6" stroke-linejoin="round" stroke-linecap="round"/>
<path d="M1459,427 L1462,430 L1460,432" fill="none" stroke="#000" stroke-width="7" stroke-linejoin="round" stroke-linecap="round"/>
<path d="M1442,428 L1446,430 L1450,428" fill="none" stroke="#000" stroke-width="5" stroke-linejoin="round" stroke-linecap="round"/>
<path d="M1456.8,437 L1460,436 L1462.8,436.6" fill="none" stroke="#000" stroke-width="6.5" stroke-linejoin="round" stroke-linecap="round"/>
<path d="M1469.8,438.2 L1472,437.6 L1473.8,438.8" fill="none" stroke="#000" stroke-width="6.5" stroke-linejoin="round" stroke-linecap="round"/>
<path d="M1383,455 L1387,456 L1386,460" fill="none" stroke="#000" stroke-width="7" stroke-linejoin="round" stroke-linecap="round"/>
<path d="M354,258 L360,259 L362,264 L359,270 L354,274 L353,280 L355,285 L359,288 L366,285 L371,280 L370,276 L372,271 L371,265 L374,261 L370,254 L369,248 L369,243 L366,241 L363,246 L364,251 L362,254 L359,257Z" fill="#000" stroke="#000" stroke-width="2" stroke-linejoin="round"/>
<path d="M352.5,245 L355,242.5 L360,241.5 L363,244.5 L362,249.5 L358,252 L354,250Z" fill="#000" stroke="#000" stroke-width="2" stroke-linejoin="round"/>
<path d="M1112.7,316.7 L1124.7,316 L1125.3,322 L1120,322.7 L1114.7,321.3Z" fill="#000" stroke="#000" stroke-width="2" stroke-linejoin="round"/>
<path d="M1143.3,335.3 L1148.7,335.3 L1149.3,343.3 L1146,348 L1142.7,345.3Z" fill="#000" stroke="#000" stroke-width="2" stroke-linejoin="round"/>
<path d="M366.4,521.6 L369,519.2 L373.6,518.8 L376.4,520.8 L376,524.4 L373.2,526.4 L374.4,530 L377.6,533.2 L378,537.6 L374.8,539.6 L370.4,539.2 L368.8,536 L369.2,531.6 L367.6,528 L366,524.8Z" fill="#000" stroke="#000" stroke-width="2" stroke-linejoin="round"/>
<path d="M1202.4,788.4 L1207,787.2 L1211.6,789.2 L1213.2,793.6 L1210.4,797.6 L1205.6,798.8 L1201.6,796 L1200.6,792Z" fill="#000" stroke="#000" stroke-width="2" stroke-linejoin="round"/>
<path d="M1213.6,816 L1217,814.4 L1220,816.4 L1220.4,820.4 L1217.6,822.8 L1214.4,821.6Z" fill="#000" stroke="#000" stroke-width="2" stroke-linejoin="round"/>
<path d="M1236.4,859.2 L1240,857.6 L1243.6,859.6 L1244,863.6 L1240.4,865.6 L1236.8,864Z" fill="#000" stroke="#000" stroke-width="2" stroke-linejoin="round"/>
</svg></body></html>
